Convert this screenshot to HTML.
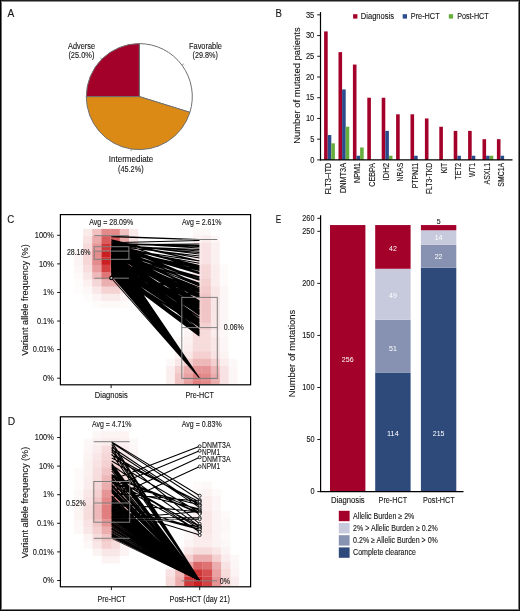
<!DOCTYPE html>
<html><head><meta charset="utf-8"><style>
html,body{margin:0;padding:0;background:#fff;}
svg{display:block;will-change:transform;}
text{font-family:"Liberation Sans", sans-serif;stroke:currentColor;stroke-width:0.12px;}
</style></head><body>
<svg width="520" height="611" viewBox="0 0 520 611">
<rect x="0" y="0" width="520" height="611" fill="#fff"/>
<text x="7.50" y="17.30" font-size="11.27" text-anchor="start" fill="#151515" color="#151515" textLength="6.80" lengthAdjust="spacingAndGlyphs">A</text>
<text x="275.60" y="17.30" font-size="11.27" text-anchor="start" fill="#151515" color="#151515" textLength="6.40" lengthAdjust="spacingAndGlyphs">B</text>
<text x="7.30" y="223.20" font-size="11.27" text-anchor="start" fill="#151515" color="#151515" textLength="7.00" lengthAdjust="spacingAndGlyphs">C</text>
<text x="7.80" y="425.40" font-size="11.27" text-anchor="start" fill="#151515" color="#151515" textLength="7.40" lengthAdjust="spacingAndGlyphs">D</text>
<text x="275.70" y="223.10" font-size="11.27" text-anchor="start" fill="#151515" color="#151515" textLength="5.40" lengthAdjust="spacingAndGlyphs">E</text>
<path d="M139.30,96.60 L139.30,43.60 A53.0,53.0 0 0 1 189.91,112.34 Z" fill="#ffffff" stroke="#707070" stroke-width="1.0" stroke-linejoin="round"/>
<path d="M139.30,96.60 L189.91,112.34 A53.0,53.0 0 0 1 86.30,96.60 Z" fill="#db8b15" stroke="#707070" stroke-width="1.0" stroke-linejoin="round"/>
<path d="M139.30,96.60 L86.30,96.60 A53.0,53.0 0 0 1 139.30,43.60 Z" fill="#a3002a" stroke="#707070" stroke-width="1.0" stroke-linejoin="round"/>
<line x1="101.82" y1="59.12" x2="100.27" y2="57.57" stroke="#6d6e71" stroke-width="0.7"/>
<line x1="181.98" y1="65.18" x2="183.75" y2="63.87" stroke="#6d6e71" stroke-width="0.7"/>
<line x1="131.34" y1="149.00" x2="131.01" y2="151.17" stroke="#6d6e71" stroke-width="0.7"/>
<text x="68.10" y="48.60" font-size="8.27" text-anchor="start" fill="#151515" color="#151515" textLength="26.90" lengthAdjust="spacingAndGlyphs">Adverse</text>
<text x="68.40" y="58.20" font-size="8.27" text-anchor="start" fill="#151515" color="#151515" textLength="26.00" lengthAdjust="spacingAndGlyphs">(25.0%)</text>
<text x="189.00" y="48.60" font-size="8.27" text-anchor="start" fill="#151515" color="#151515" textLength="32.90" lengthAdjust="spacingAndGlyphs">Favorable</text>
<text x="192.50" y="58.20" font-size="8.27" text-anchor="start" fill="#151515" color="#151515" textLength="25.30" lengthAdjust="spacingAndGlyphs">(29.8%)</text>
<text x="108.80" y="162.00" font-size="8.27" text-anchor="start" fill="#151515" color="#151515" textLength="44.50" lengthAdjust="spacingAndGlyphs">Intermediate</text>
<text x="118.00" y="171.60" font-size="8.27" text-anchor="start" fill="#151515" color="#151515" textLength="25.60" lengthAdjust="spacingAndGlyphs">(45.2%)</text>
<rect x="324.10" y="31.41" width="3.60" height="128.49" fill="#a3002a"/>
<rect x="327.70" y="135.03" width="3.60" height="24.87" fill="#2b4c8c"/>
<rect x="331.30" y="143.32" width="3.60" height="16.58" fill="#68ad3c"/>
<text x="331.50" y="162.90" font-size="8.4" text-anchor="end" fill="#151515" color="#151515" textLength="31.40" lengthAdjust="spacingAndGlyphs" transform="rotate(-90 331.50 162.90)">FLT3–ITD</text>
<rect x="338.50" y="52.13" width="3.60" height="107.77" fill="#a3002a"/>
<rect x="342.10" y="89.44" width="3.60" height="70.46" fill="#2b4c8c"/>
<rect x="345.70" y="126.74" width="3.60" height="33.16" fill="#68ad3c"/>
<text x="345.90" y="162.90" font-size="8.4" text-anchor="end" fill="#151515" color="#151515" textLength="30.20" lengthAdjust="spacingAndGlyphs" transform="rotate(-90 345.90 162.90)">DNMT3A</text>
<rect x="352.90" y="64.57" width="3.60" height="95.33" fill="#a3002a"/>
<rect x="356.50" y="155.75" width="3.60" height="4.14" fill="#2b4c8c"/>
<rect x="360.10" y="147.47" width="3.60" height="12.43" fill="#68ad3c"/>
<text x="360.30" y="162.90" font-size="8.4" text-anchor="end" fill="#151515" color="#151515" textLength="20.00" lengthAdjust="spacingAndGlyphs" transform="rotate(-90 360.30 162.90)">NPM1</text>
<rect x="367.30" y="97.73" width="3.60" height="62.17" fill="#a3002a"/>
<text x="374.70" y="162.90" font-size="8.4" text-anchor="end" fill="#151515" color="#151515" textLength="23.80" lengthAdjust="spacingAndGlyphs" transform="rotate(-90 374.70 162.90)">CEBPA</text>
<rect x="381.70" y="97.73" width="3.60" height="62.17" fill="#a3002a"/>
<rect x="385.30" y="130.89" width="3.60" height="29.01" fill="#2b4c8c"/>
<rect x="388.90" y="155.75" width="3.60" height="4.14" fill="#68ad3c"/>
<text x="389.10" y="162.90" font-size="8.4" text-anchor="end" fill="#151515" color="#151515" textLength="17.70" lengthAdjust="spacingAndGlyphs" transform="rotate(-90 389.10 162.90)">IDH2</text>
<rect x="396.10" y="114.31" width="3.60" height="45.59" fill="#a3002a"/>
<text x="403.50" y="162.90" font-size="8.4" text-anchor="end" fill="#151515" color="#151515" textLength="18.50" lengthAdjust="spacingAndGlyphs" transform="rotate(-90 403.50 162.90)">NRAS</text>
<rect x="410.50" y="114.31" width="3.60" height="45.59" fill="#a3002a"/>
<rect x="414.10" y="155.75" width="3.60" height="4.14" fill="#2b4c8c"/>
<text x="417.90" y="162.90" font-size="8.4" text-anchor="end" fill="#151515" color="#151515" textLength="25.40" lengthAdjust="spacingAndGlyphs" transform="rotate(-90 417.90 162.90)">PTPN11</text>
<rect x="424.90" y="118.45" width="3.60" height="41.45" fill="#a3002a"/>
<text x="432.30" y="162.90" font-size="8.4" text-anchor="end" fill="#151515" color="#151515" textLength="31.20" lengthAdjust="spacingAndGlyphs" transform="rotate(-90 432.30 162.90)">FLT3-TKD</text>
<rect x="439.30" y="126.74" width="3.60" height="33.16" fill="#a3002a"/>
<text x="446.70" y="162.90" font-size="8.4" text-anchor="end" fill="#151515" color="#151515" textLength="10.40" lengthAdjust="spacingAndGlyphs" transform="rotate(-90 446.70 162.90)">KIT</text>
<rect x="453.70" y="130.89" width="3.60" height="29.01" fill="#a3002a"/>
<rect x="457.30" y="155.75" width="3.60" height="4.14" fill="#2b4c8c"/>
<text x="461.10" y="162.90" font-size="8.4" text-anchor="end" fill="#151515" color="#151515" textLength="16.50" lengthAdjust="spacingAndGlyphs" transform="rotate(-90 461.10 162.90)">TET2</text>
<rect x="468.10" y="130.89" width="3.60" height="29.01" fill="#a3002a"/>
<rect x="471.70" y="155.75" width="3.60" height="4.14" fill="#2b4c8c"/>
<text x="475.50" y="162.90" font-size="8.4" text-anchor="end" fill="#151515" color="#151515" textLength="14.20" lengthAdjust="spacingAndGlyphs" transform="rotate(-90 475.50 162.90)">WT1</text>
<rect x="482.50" y="139.18" width="3.60" height="20.72" fill="#a3002a"/>
<rect x="486.10" y="155.75" width="3.60" height="4.14" fill="#2b4c8c"/>
<rect x="489.70" y="155.75" width="3.60" height="4.14" fill="#68ad3c"/>
<text x="489.90" y="162.90" font-size="8.4" text-anchor="end" fill="#151515" color="#151515" textLength="21.50" lengthAdjust="spacingAndGlyphs" transform="rotate(-90 489.90 162.90)">ASXL1</text>
<rect x="496.90" y="139.18" width="3.60" height="20.72" fill="#a3002a"/>
<rect x="500.50" y="155.75" width="3.60" height="4.14" fill="#2b4c8c"/>
<text x="504.30" y="162.90" font-size="8.4" text-anchor="end" fill="#151515" color="#151515" textLength="23.80" lengthAdjust="spacingAndGlyphs" transform="rotate(-90 504.30 162.90)">SMC1A</text>
<line x1="320.50" y1="12.10" x2="320.50" y2="160.40" stroke="#000" stroke-width="1.2"/>
<line x1="320.00" y1="159.90" x2="512.50" y2="159.90" stroke="#000" stroke-width="1.2"/>
<line x1="317.20" y1="159.90" x2="320.50" y2="159.90" stroke="#000" stroke-width="0.9"/>
<text x="314.30" y="162.60" font-size="8.4" text-anchor="end" fill="#151515" color="#151515" textLength="4.17" lengthAdjust="spacingAndGlyphs">0</text>
<line x1="317.20" y1="139.18" x2="320.50" y2="139.18" stroke="#000" stroke-width="0.9"/>
<text x="314.30" y="141.88" font-size="8.4" text-anchor="end" fill="#151515" color="#151515" textLength="4.17" lengthAdjust="spacingAndGlyphs">5</text>
<line x1="317.20" y1="118.45" x2="320.50" y2="118.45" stroke="#000" stroke-width="0.9"/>
<text x="314.30" y="121.15" font-size="8.4" text-anchor="end" fill="#151515" color="#151515" textLength="8.34" lengthAdjust="spacingAndGlyphs">10</text>
<line x1="317.20" y1="97.73" x2="320.50" y2="97.73" stroke="#000" stroke-width="0.9"/>
<text x="314.30" y="100.43" font-size="8.4" text-anchor="end" fill="#151515" color="#151515" textLength="8.34" lengthAdjust="spacingAndGlyphs">15</text>
<line x1="317.20" y1="77.00" x2="320.50" y2="77.00" stroke="#000" stroke-width="0.9"/>
<text x="314.30" y="79.70" font-size="8.4" text-anchor="end" fill="#151515" color="#151515" textLength="8.34" lengthAdjust="spacingAndGlyphs">20</text>
<line x1="317.20" y1="56.28" x2="320.50" y2="56.28" stroke="#000" stroke-width="0.9"/>
<text x="314.30" y="58.98" font-size="8.4" text-anchor="end" fill="#151515" color="#151515" textLength="8.34" lengthAdjust="spacingAndGlyphs">25</text>
<line x1="317.20" y1="35.55" x2="320.50" y2="35.55" stroke="#000" stroke-width="0.9"/>
<text x="314.30" y="38.25" font-size="8.4" text-anchor="end" fill="#151515" color="#151515" textLength="8.34" lengthAdjust="spacingAndGlyphs">30</text>
<line x1="317.20" y1="14.83" x2="320.50" y2="14.83" stroke="#000" stroke-width="0.9"/>
<text x="314.30" y="17.53" font-size="8.4" text-anchor="end" fill="#151515" color="#151515" textLength="8.34" lengthAdjust="spacingAndGlyphs">35</text>
<text x="299.60" y="85.60" font-size="9.36" text-anchor="middle" fill="#151515" color="#151515" textLength="116.50" lengthAdjust="spacingAndGlyphs" transform="rotate(-90 299.60 85.60)">Number of mutated patients</text>
<rect x="353.10" y="14.20" width="4.30" height="4.40" fill="#a3002a"/>
<text x="360.80" y="18.80" font-size="8.51" text-anchor="start" fill="#151515" color="#151515" textLength="33.20" lengthAdjust="spacingAndGlyphs">Diagnosis</text>
<rect x="402.70" y="14.20" width="4.30" height="4.40" fill="#2b4c8c"/>
<text x="410.80" y="18.80" font-size="8.51" text-anchor="start" fill="#151515" color="#151515" textLength="28.80" lengthAdjust="spacingAndGlyphs">Pre-HCT</text>
<rect x="448.80" y="14.20" width="4.30" height="4.40" fill="#68ad3c"/>
<text x="457.20" y="18.80" font-size="8.51" text-anchor="start" fill="#151515" color="#151515" textLength="31.40" lengthAdjust="spacingAndGlyphs">Post-HCT</text>
<rect x="330.00" y="225.05" width="35.40" height="266.55" fill="#a3002a"/>
<rect x="375.20" y="372.90" width="35.40" height="118.70" fill="#2e4a7b"/>
<rect x="375.20" y="319.80" width="35.40" height="53.10" fill="#8792b3"/>
<rect x="375.20" y="268.78" width="35.40" height="51.02" fill="#c7c9dc"/>
<rect x="375.20" y="225.05" width="35.40" height="43.73" fill="#a3002a"/>
<rect x="420.90" y="267.74" width="35.40" height="223.86" fill="#2e4a7b"/>
<rect x="420.90" y="244.84" width="35.40" height="22.91" fill="#8792b3"/>
<rect x="420.90" y="230.26" width="35.40" height="14.58" fill="#c7c9dc"/>
<rect x="420.90" y="225.05" width="35.40" height="5.21" fill="#a3002a"/>
<text x="347.70" y="362.00" font-size="7.84" text-anchor="middle" fill="#fff" color="#fff" style="stroke:none" textLength="11.68" lengthAdjust="spacingAndGlyphs">256</text>
<text x="392.90" y="251.00" font-size="7.84" text-anchor="middle" fill="#fff" color="#fff" style="stroke:none" textLength="7.79" lengthAdjust="spacingAndGlyphs">42</text>
<text x="392.90" y="297.50" font-size="7.84" text-anchor="middle" fill="#fff" color="#fff" style="stroke:none" textLength="7.79" lengthAdjust="spacingAndGlyphs">49</text>
<text x="392.90" y="350.50" font-size="7.84" text-anchor="middle" fill="#fff" color="#fff" style="stroke:none" textLength="7.79" lengthAdjust="spacingAndGlyphs">51</text>
<text x="392.90" y="435.50" font-size="7.84" text-anchor="middle" fill="#fff" color="#fff" style="stroke:none" textLength="11.68" lengthAdjust="spacingAndGlyphs">114</text>
<text x="438.60" y="240.20" font-size="7.84" text-anchor="middle" fill="#fff" color="#fff" style="stroke:none" textLength="7.79" lengthAdjust="spacingAndGlyphs">14</text>
<text x="438.60" y="258.60" font-size="7.84" text-anchor="middle" fill="#fff" color="#fff" style="stroke:none" textLength="7.79" lengthAdjust="spacingAndGlyphs">22</text>
<text x="438.60" y="435.50" font-size="7.84" text-anchor="middle" fill="#fff" color="#fff" style="stroke:none" textLength="11.68" lengthAdjust="spacingAndGlyphs">215</text>
<text x="438.60" y="223.60" font-size="7.84" text-anchor="middle" fill="#151515" color="#151515" textLength="3.89" lengthAdjust="spacingAndGlyphs">5</text>
<line x1="320.60" y1="215.20" x2="320.60" y2="492.10" stroke="#000" stroke-width="1.2"/>
<line x1="320.00" y1="491.60" x2="463.50" y2="491.60" stroke="#000" stroke-width="1.2"/>
<line x1="317.30" y1="218.30" x2="320.60" y2="218.30" stroke="#000" stroke-width="0.9"/>
<text x="314.50" y="220.90" font-size="8.18" text-anchor="end" fill="#151515" color="#151515" textLength="12.18" lengthAdjust="spacingAndGlyphs">260</text>
<line x1="317.30" y1="231.30" x2="320.60" y2="231.30" stroke="#000" stroke-width="0.9"/>
<text x="314.50" y="233.90" font-size="8.18" text-anchor="end" fill="#151515" color="#151515" textLength="12.18" lengthAdjust="spacingAndGlyphs">250</text>
<line x1="317.30" y1="283.36" x2="320.60" y2="283.36" stroke="#000" stroke-width="0.9"/>
<text x="314.50" y="285.96" font-size="8.18" text-anchor="end" fill="#151515" color="#151515" textLength="12.18" lengthAdjust="spacingAndGlyphs">200</text>
<line x1="317.30" y1="335.42" x2="320.60" y2="335.42" stroke="#000" stroke-width="0.9"/>
<text x="314.50" y="338.02" font-size="8.18" text-anchor="end" fill="#151515" color="#151515" textLength="12.18" lengthAdjust="spacingAndGlyphs">150</text>
<line x1="317.30" y1="387.48" x2="320.60" y2="387.48" stroke="#000" stroke-width="0.9"/>
<text x="314.50" y="390.08" font-size="8.18" text-anchor="end" fill="#151515" color="#151515" textLength="12.18" lengthAdjust="spacingAndGlyphs">100</text>
<line x1="317.30" y1="439.54" x2="320.60" y2="439.54" stroke="#000" stroke-width="0.9"/>
<text x="314.50" y="442.14" font-size="8.18" text-anchor="end" fill="#151515" color="#151515" textLength="8.12" lengthAdjust="spacingAndGlyphs">50</text>
<line x1="317.30" y1="491.60" x2="320.60" y2="491.60" stroke="#000" stroke-width="0.9"/>
<text x="314.50" y="494.20" font-size="8.18" text-anchor="end" fill="#151515" color="#151515" textLength="4.06" lengthAdjust="spacingAndGlyphs">0</text>
<text x="295.20" y="353.50" font-size="9.36" text-anchor="middle" fill="#151515" color="#151515" textLength="87.60" lengthAdjust="spacingAndGlyphs" transform="rotate(-90 295.20 353.50)">Number of mutations</text>
<text x="331.00" y="503.00" font-size="8.51" text-anchor="start" fill="#151515" color="#151515" textLength="33.70" lengthAdjust="spacingAndGlyphs">Diagnosis</text>
<text x="378.60" y="503.00" font-size="8.51" text-anchor="start" fill="#151515" color="#151515" textLength="28.50" lengthAdjust="spacingAndGlyphs">Pre-HCT</text>
<text x="423.00" y="503.00" font-size="8.51" text-anchor="start" fill="#151515" color="#151515" textLength="31.70" lengthAdjust="spacingAndGlyphs">Post-HCT</text>
<rect x="338.80" y="510.80" width="10.80" height="10.40" fill="#a3002a"/>
<text x="353.10" y="518.70" font-size="8.51" text-anchor="start" fill="#151515" color="#151515" textLength="61.30" lengthAdjust="spacingAndGlyphs">Allelic Burden ≥ 2%</text>
<rect x="338.80" y="523.00" width="10.80" height="10.40" fill="#c7c9dc"/>
<text x="353.10" y="530.90" font-size="8.51" text-anchor="start" fill="#151515" color="#151515" textLength="84.80" lengthAdjust="spacingAndGlyphs">2% &gt; Allelic Burden ≥ 0.2%</text>
<rect x="338.80" y="535.20" width="10.80" height="10.40" fill="#8792b3"/>
<text x="353.10" y="543.10" font-size="8.51" text-anchor="start" fill="#151515" color="#151515" textLength="84.80" lengthAdjust="spacingAndGlyphs">0.2% ≥ Allelic Burden &gt; 0%</text>
<rect x="338.80" y="547.40" width="10.80" height="10.40" fill="#2e4a7b"/>
<text x="353.10" y="555.30" font-size="8.51" text-anchor="start" fill="#151515" color="#151515" textLength="62.80" lengthAdjust="spacingAndGlyphs">Complete clearance</text>
<rect x="83.10" y="228.90" width="9.13" height="7.23" fill="rgb(200, 20, 22)" fill-opacity="0.091"/>
<rect x="92.20" y="228.90" width="9.23" height="7.23" fill="rgb(200, 20, 22)" fill-opacity="0.262"/>
<rect x="101.40" y="228.90" width="9.23" height="7.23" fill="rgb(200, 20, 22)" fill-opacity="0.503"/>
<rect x="110.60" y="228.90" width="9.23" height="7.23" fill="rgb(200, 20, 22)" fill-opacity="0.503"/>
<rect x="119.80" y="228.90" width="9.23" height="7.23" fill="rgb(200, 20, 22)" fill-opacity="0.262"/>
<rect x="129.00" y="228.90" width="9.23" height="7.23" fill="rgb(200, 20, 22)" fill-opacity="0.091"/>
<rect x="83.10" y="236.10" width="9.13" height="7.23" fill="rgb(200, 20, 22)" fill-opacity="0.127"/>
<rect x="92.20" y="236.10" width="9.23" height="7.23" fill="rgb(200, 20, 22)" fill-opacity="0.366"/>
<rect x="101.40" y="236.10" width="9.23" height="7.23" fill="rgb(200, 20, 22)" fill-opacity="0.703"/>
<rect x="110.60" y="236.10" width="9.23" height="7.23" fill="rgb(200, 20, 22)" fill-opacity="0.703"/>
<rect x="119.80" y="236.10" width="9.23" height="7.23" fill="rgb(200, 20, 22)" fill-opacity="0.366"/>
<rect x="129.00" y="236.10" width="9.23" height="7.23" fill="rgb(200, 20, 22)" fill-opacity="0.127"/>
<rect x="83.10" y="243.30" width="9.13" height="7.23" fill="rgb(200, 20, 22)" fill-opacity="0.154"/>
<rect x="92.20" y="243.30" width="9.23" height="7.23" fill="rgb(200, 20, 22)" fill-opacity="0.445"/>
<rect x="101.40" y="243.30" width="9.23" height="7.23" fill="rgb(200, 20, 22)" fill-opacity="0.855"/>
<rect x="110.60" y="243.30" width="9.23" height="7.23" fill="rgb(200, 20, 22)" fill-opacity="0.855"/>
<rect x="119.80" y="243.30" width="9.23" height="7.23" fill="rgb(200, 20, 22)" fill-opacity="0.445"/>
<rect x="129.00" y="243.30" width="9.23" height="7.23" fill="rgb(200, 20, 22)" fill-opacity="0.154"/>
<rect x="74.10" y="250.50" width="9.03" height="7.23" fill="rgb(200, 20, 22)" fill-opacity="0.048"/>
<rect x="83.10" y="250.50" width="9.13" height="7.23" fill="rgb(200, 20, 22)" fill-opacity="0.171"/>
<rect x="92.20" y="250.50" width="9.23" height="7.23" fill="rgb(200, 20, 22)" fill-opacity="0.494"/>
<rect x="101.40" y="250.50" width="9.23" height="7.23" fill="rgb(200, 20, 22)" fill-opacity="0.950"/>
<rect x="110.60" y="250.50" width="9.23" height="7.23" fill="rgb(200, 20, 22)" fill-opacity="0.950"/>
<rect x="119.80" y="250.50" width="9.23" height="7.23" fill="rgb(200, 20, 22)" fill-opacity="0.494"/>
<rect x="129.00" y="250.50" width="9.23" height="7.23" fill="rgb(200, 20, 22)" fill-opacity="0.171"/>
<rect x="74.10" y="257.70" width="9.03" height="7.23" fill="rgb(200, 20, 22)" fill-opacity="0.048"/>
<rect x="83.10" y="257.70" width="9.13" height="7.23" fill="rgb(200, 20, 22)" fill-opacity="0.171"/>
<rect x="92.20" y="257.70" width="9.23" height="7.23" fill="rgb(200, 20, 22)" fill-opacity="0.494"/>
<rect x="101.40" y="257.70" width="9.23" height="7.23" fill="rgb(200, 20, 22)" fill-opacity="0.950"/>
<rect x="110.60" y="257.70" width="9.23" height="7.23" fill="rgb(200, 20, 22)" fill-opacity="0.950"/>
<rect x="119.80" y="257.70" width="9.23" height="7.23" fill="rgb(200, 20, 22)" fill-opacity="0.494"/>
<rect x="129.00" y="257.70" width="9.23" height="7.23" fill="rgb(200, 20, 22)" fill-opacity="0.171"/>
<rect x="74.10" y="264.90" width="9.03" height="7.23" fill="rgb(200, 20, 22)" fill-opacity="0.040"/>
<rect x="83.10" y="264.90" width="9.13" height="7.23" fill="rgb(200, 20, 22)" fill-opacity="0.145"/>
<rect x="92.20" y="264.90" width="9.23" height="7.23" fill="rgb(200, 20, 22)" fill-opacity="0.420"/>
<rect x="101.40" y="264.90" width="9.23" height="7.23" fill="rgb(200, 20, 22)" fill-opacity="0.807"/>
<rect x="110.60" y="264.90" width="9.23" height="7.23" fill="rgb(200, 20, 22)" fill-opacity="0.807"/>
<rect x="119.80" y="264.90" width="9.23" height="7.23" fill="rgb(200, 20, 22)" fill-opacity="0.420"/>
<rect x="129.00" y="264.90" width="9.23" height="7.23" fill="rgb(200, 20, 22)" fill-opacity="0.145"/>
<rect x="74.10" y="272.10" width="9.03" height="7.23" fill="rgb(200, 20, 22)" fill-opacity="0.029"/>
<rect x="83.10" y="272.10" width="9.13" height="7.23" fill="rgb(200, 20, 22)" fill-opacity="0.106"/>
<rect x="92.20" y="272.10" width="9.23" height="7.23" fill="rgb(200, 20, 22)" fill-opacity="0.306"/>
<rect x="101.40" y="272.10" width="9.23" height="7.23" fill="rgb(200, 20, 22)" fill-opacity="0.589"/>
<rect x="110.60" y="272.10" width="9.23" height="7.23" fill="rgb(200, 20, 22)" fill-opacity="0.589"/>
<rect x="119.80" y="272.10" width="9.23" height="7.23" fill="rgb(200, 20, 22)" fill-opacity="0.306"/>
<rect x="129.00" y="272.10" width="9.23" height="7.23" fill="rgb(200, 20, 22)" fill-opacity="0.106"/>
<rect x="74.10" y="279.30" width="9.03" height="7.23" fill="rgb(200, 20, 22)" fill-opacity="0.017"/>
<rect x="83.10" y="279.30" width="9.13" height="7.23" fill="rgb(200, 20, 22)" fill-opacity="0.062"/>
<rect x="92.20" y="279.30" width="9.23" height="7.23" fill="rgb(200, 20, 22)" fill-opacity="0.178"/>
<rect x="101.40" y="279.30" width="9.23" height="7.23" fill="rgb(200, 20, 22)" fill-opacity="0.342"/>
<rect x="110.60" y="279.30" width="9.23" height="7.23" fill="rgb(200, 20, 22)" fill-opacity="0.342"/>
<rect x="119.80" y="279.30" width="9.23" height="7.23" fill="rgb(200, 20, 22)" fill-opacity="0.178"/>
<rect x="129.00" y="279.30" width="9.23" height="7.23" fill="rgb(200, 20, 22)" fill-opacity="0.062"/>
<rect x="74.10" y="286.50" width="9.03" height="7.23" fill="rgb(200, 20, 22)" fill-opacity="0.010"/>
<rect x="83.10" y="286.50" width="9.13" height="7.23" fill="rgb(200, 20, 22)" fill-opacity="0.034"/>
<rect x="92.20" y="286.50" width="9.23" height="7.23" fill="rgb(200, 20, 22)" fill-opacity="0.099"/>
<rect x="101.40" y="286.50" width="9.23" height="7.23" fill="rgb(200, 20, 22)" fill-opacity="0.190"/>
<rect x="110.60" y="286.50" width="9.23" height="7.23" fill="rgb(200, 20, 22)" fill-opacity="0.190"/>
<rect x="119.80" y="286.50" width="9.23" height="7.23" fill="rgb(200, 20, 22)" fill-opacity="0.099"/>
<rect x="129.00" y="286.50" width="9.23" height="7.23" fill="rgb(200, 20, 22)" fill-opacity="0.034"/>
<rect x="83.10" y="293.70" width="9.13" height="7.23" fill="rgb(200, 20, 22)" fill-opacity="0.015"/>
<rect x="92.20" y="293.70" width="9.23" height="7.23" fill="rgb(200, 20, 22)" fill-opacity="0.044"/>
<rect x="101.40" y="293.70" width="9.23" height="7.23" fill="rgb(200, 20, 22)" fill-opacity="0.085"/>
<rect x="110.60" y="293.70" width="9.23" height="7.23" fill="rgb(200, 20, 22)" fill-opacity="0.085"/>
<rect x="119.80" y="293.70" width="9.23" height="7.23" fill="rgb(200, 20, 22)" fill-opacity="0.044"/>
<rect x="129.00" y="293.70" width="9.23" height="7.23" fill="rgb(200, 20, 22)" fill-opacity="0.015"/>
<rect x="83.10" y="300.90" width="9.13" height="7.23" fill="rgb(200, 20, 22)" fill-opacity="0.005"/>
<rect x="92.20" y="300.90" width="9.23" height="7.23" fill="rgb(200, 20, 22)" fill-opacity="0.015"/>
<rect x="101.40" y="300.90" width="9.23" height="7.23" fill="rgb(200, 20, 22)" fill-opacity="0.028"/>
<rect x="110.60" y="300.90" width="9.23" height="7.23" fill="rgb(200, 20, 22)" fill-opacity="0.028"/>
<rect x="119.80" y="300.90" width="9.23" height="7.23" fill="rgb(200, 20, 22)" fill-opacity="0.015"/>
<rect x="129.00" y="300.90" width="9.23" height="7.23" fill="rgb(200, 20, 22)" fill-opacity="0.005"/>
<rect x="192.80" y="228.30" width="8.73" height="7.28" fill="rgb(200, 20, 22)" fill-opacity="0.030"/>
<rect x="201.50" y="228.30" width="9.33" height="7.28" fill="rgb(200, 20, 22)" fill-opacity="0.030"/>
<rect x="192.80" y="235.55" width="8.73" height="7.28" fill="rgb(200, 20, 22)" fill-opacity="0.050"/>
<rect x="201.50" y="235.55" width="9.33" height="7.28" fill="rgb(200, 20, 22)" fill-opacity="0.080"/>
<rect x="210.80" y="235.55" width="8.93" height="7.28" fill="rgb(200, 20, 22)" fill-opacity="0.040"/>
<rect x="183.80" y="242.80" width="9.03" height="7.28" fill="rgb(200, 20, 22)" fill-opacity="0.020"/>
<rect x="192.80" y="242.80" width="8.73" height="7.28" fill="rgb(200, 20, 22)" fill-opacity="0.080"/>
<rect x="201.50" y="242.80" width="9.33" height="7.28" fill="rgb(200, 20, 22)" fill-opacity="0.120"/>
<rect x="210.80" y="242.80" width="8.93" height="7.28" fill="rgb(200, 20, 22)" fill-opacity="0.060"/>
<rect x="183.80" y="250.05" width="9.03" height="7.28" fill="rgb(200, 20, 22)" fill-opacity="0.020"/>
<rect x="192.80" y="250.05" width="8.73" height="7.28" fill="rgb(200, 20, 22)" fill-opacity="0.080"/>
<rect x="201.50" y="250.05" width="9.33" height="7.28" fill="rgb(200, 20, 22)" fill-opacity="0.120"/>
<rect x="210.80" y="250.05" width="8.93" height="7.28" fill="rgb(200, 20, 22)" fill-opacity="0.060"/>
<rect x="183.80" y="257.30" width="9.03" height="7.28" fill="rgb(200, 20, 22)" fill-opacity="0.020"/>
<rect x="192.80" y="257.30" width="8.73" height="7.28" fill="rgb(200, 20, 22)" fill-opacity="0.080"/>
<rect x="201.50" y="257.30" width="9.33" height="7.28" fill="rgb(200, 20, 22)" fill-opacity="0.120"/>
<rect x="210.80" y="257.30" width="8.93" height="7.28" fill="rgb(200, 20, 22)" fill-opacity="0.060"/>
<rect x="183.80" y="264.55" width="9.03" height="7.28" fill="rgb(200, 20, 22)" fill-opacity="0.030"/>
<rect x="192.80" y="264.55" width="8.73" height="7.28" fill="rgb(200, 20, 22)" fill-opacity="0.120"/>
<rect x="201.50" y="264.55" width="9.33" height="7.28" fill="rgb(200, 20, 22)" fill-opacity="0.170"/>
<rect x="210.80" y="264.55" width="8.93" height="7.28" fill="rgb(200, 20, 22)" fill-opacity="0.080"/>
<rect x="219.70" y="264.55" width="8.83" height="7.28" fill="rgb(200, 20, 22)" fill-opacity="0.020"/>
<rect x="183.80" y="271.80" width="9.03" height="7.28" fill="rgb(200, 20, 22)" fill-opacity="0.030"/>
<rect x="192.80" y="271.80" width="8.73" height="7.28" fill="rgb(200, 20, 22)" fill-opacity="0.120"/>
<rect x="201.50" y="271.80" width="9.33" height="7.28" fill="rgb(200, 20, 22)" fill-opacity="0.170"/>
<rect x="210.80" y="271.80" width="8.93" height="7.28" fill="rgb(200, 20, 22)" fill-opacity="0.080"/>
<rect x="219.70" y="271.80" width="8.83" height="7.28" fill="rgb(200, 20, 22)" fill-opacity="0.020"/>
<rect x="183.80" y="279.05" width="9.03" height="7.28" fill="rgb(200, 20, 22)" fill-opacity="0.030"/>
<rect x="192.80" y="279.05" width="8.73" height="7.28" fill="rgb(200, 20, 22)" fill-opacity="0.140"/>
<rect x="201.50" y="279.05" width="9.33" height="7.28" fill="rgb(200, 20, 22)" fill-opacity="0.200"/>
<rect x="210.80" y="279.05" width="8.93" height="7.28" fill="rgb(200, 20, 22)" fill-opacity="0.080"/>
<rect x="219.70" y="279.05" width="8.83" height="7.28" fill="rgb(200, 20, 22)" fill-opacity="0.020"/>
<rect x="183.80" y="286.30" width="9.03" height="7.28" fill="rgb(200, 20, 22)" fill-opacity="0.040"/>
<rect x="192.80" y="286.30" width="8.73" height="7.28" fill="rgb(200, 20, 22)" fill-opacity="0.180"/>
<rect x="201.50" y="286.30" width="9.33" height="7.28" fill="rgb(200, 20, 22)" fill-opacity="0.220"/>
<rect x="210.80" y="286.30" width="8.93" height="7.28" fill="rgb(200, 20, 22)" fill-opacity="0.100"/>
<rect x="219.70" y="286.30" width="8.83" height="7.28" fill="rgb(200, 20, 22)" fill-opacity="0.040"/>
<rect x="183.80" y="293.55" width="9.03" height="7.28" fill="rgb(200, 20, 22)" fill-opacity="0.040"/>
<rect x="192.80" y="293.55" width="8.73" height="7.28" fill="rgb(200, 20, 22)" fill-opacity="0.200"/>
<rect x="201.50" y="293.55" width="9.33" height="7.28" fill="rgb(200, 20, 22)" fill-opacity="0.250"/>
<rect x="210.80" y="293.55" width="8.93" height="7.28" fill="rgb(200, 20, 22)" fill-opacity="0.100"/>
<rect x="219.70" y="293.55" width="8.83" height="7.28" fill="rgb(200, 20, 22)" fill-opacity="0.040"/>
<rect x="183.80" y="300.80" width="9.03" height="7.28" fill="rgb(200, 20, 22)" fill-opacity="0.040"/>
<rect x="192.80" y="300.80" width="8.73" height="7.28" fill="rgb(200, 20, 22)" fill-opacity="0.200"/>
<rect x="201.50" y="300.80" width="9.33" height="7.28" fill="rgb(200, 20, 22)" fill-opacity="0.250"/>
<rect x="210.80" y="300.80" width="8.93" height="7.28" fill="rgb(200, 20, 22)" fill-opacity="0.100"/>
<rect x="219.70" y="300.80" width="8.83" height="7.28" fill="rgb(200, 20, 22)" fill-opacity="0.040"/>
<rect x="183.80" y="308.05" width="9.03" height="7.28" fill="rgb(200, 20, 22)" fill-opacity="0.050"/>
<rect x="192.80" y="308.05" width="8.73" height="7.28" fill="rgb(200, 20, 22)" fill-opacity="0.200"/>
<rect x="201.50" y="308.05" width="9.33" height="7.28" fill="rgb(200, 20, 22)" fill-opacity="0.250"/>
<rect x="210.80" y="308.05" width="8.93" height="7.28" fill="rgb(200, 20, 22)" fill-opacity="0.100"/>
<rect x="219.70" y="308.05" width="8.83" height="7.28" fill="rgb(200, 20, 22)" fill-opacity="0.040"/>
<rect x="183.80" y="315.30" width="9.03" height="7.28" fill="rgb(200, 20, 22)" fill-opacity="0.050"/>
<rect x="192.80" y="315.30" width="8.73" height="7.28" fill="rgb(200, 20, 22)" fill-opacity="0.200"/>
<rect x="201.50" y="315.30" width="9.33" height="7.28" fill="rgb(200, 20, 22)" fill-opacity="0.250"/>
<rect x="210.80" y="315.30" width="8.93" height="7.28" fill="rgb(200, 20, 22)" fill-opacity="0.100"/>
<rect x="219.70" y="315.30" width="8.83" height="7.28" fill="rgb(200, 20, 22)" fill-opacity="0.040"/>
<rect x="183.80" y="322.55" width="9.03" height="7.28" fill="rgb(200, 20, 22)" fill-opacity="0.050"/>
<rect x="192.80" y="322.55" width="8.73" height="7.28" fill="rgb(200, 20, 22)" fill-opacity="0.180"/>
<rect x="201.50" y="322.55" width="9.33" height="7.28" fill="rgb(200, 20, 22)" fill-opacity="0.200"/>
<rect x="210.80" y="322.55" width="8.93" height="7.28" fill="rgb(200, 20, 22)" fill-opacity="0.100"/>
<rect x="219.70" y="322.55" width="8.83" height="7.28" fill="rgb(200, 20, 22)" fill-opacity="0.040"/>
<rect x="183.80" y="329.80" width="9.03" height="7.28" fill="rgb(200, 20, 22)" fill-opacity="0.050"/>
<rect x="192.80" y="329.80" width="8.73" height="7.28" fill="rgb(200, 20, 22)" fill-opacity="0.150"/>
<rect x="201.50" y="329.80" width="9.33" height="7.28" fill="rgb(200, 20, 22)" fill-opacity="0.150"/>
<rect x="210.80" y="329.80" width="8.93" height="7.28" fill="rgb(200, 20, 22)" fill-opacity="0.080"/>
<rect x="219.70" y="329.80" width="8.83" height="7.28" fill="rgb(200, 20, 22)" fill-opacity="0.030"/>
<rect x="174.90" y="337.05" width="8.93" height="7.28" fill="rgb(200, 20, 22)" fill-opacity="0.030"/>
<rect x="183.80" y="337.05" width="9.03" height="7.28" fill="rgb(200, 20, 22)" fill-opacity="0.060"/>
<rect x="192.80" y="337.05" width="8.73" height="7.28" fill="rgb(200, 20, 22)" fill-opacity="0.150"/>
<rect x="201.50" y="337.05" width="9.33" height="7.28" fill="rgb(200, 20, 22)" fill-opacity="0.150"/>
<rect x="210.80" y="337.05" width="8.93" height="7.28" fill="rgb(200, 20, 22)" fill-opacity="0.100"/>
<rect x="219.70" y="337.05" width="8.83" height="7.28" fill="rgb(200, 20, 22)" fill-opacity="0.040"/>
<rect x="174.90" y="344.30" width="8.93" height="7.28" fill="rgb(200, 20, 22)" fill-opacity="0.030"/>
<rect x="183.80" y="344.30" width="9.03" height="7.28" fill="rgb(200, 20, 22)" fill-opacity="0.080"/>
<rect x="192.80" y="344.30" width="8.73" height="7.28" fill="rgb(200, 20, 22)" fill-opacity="0.150"/>
<rect x="201.50" y="344.30" width="9.33" height="7.28" fill="rgb(200, 20, 22)" fill-opacity="0.150"/>
<rect x="210.80" y="344.30" width="8.93" height="7.28" fill="rgb(200, 20, 22)" fill-opacity="0.100"/>
<rect x="219.70" y="344.30" width="8.83" height="7.28" fill="rgb(200, 20, 22)" fill-opacity="0.040"/>
<rect x="174.90" y="351.55" width="8.93" height="7.28" fill="rgb(200, 20, 22)" fill-opacity="0.050"/>
<rect x="183.80" y="351.55" width="9.03" height="7.28" fill="rgb(200, 20, 22)" fill-opacity="0.100"/>
<rect x="192.80" y="351.55" width="8.73" height="7.28" fill="rgb(200, 20, 22)" fill-opacity="0.200"/>
<rect x="201.50" y="351.55" width="9.33" height="7.28" fill="rgb(200, 20, 22)" fill-opacity="0.200"/>
<rect x="210.80" y="351.55" width="8.93" height="7.28" fill="rgb(200, 20, 22)" fill-opacity="0.120"/>
<rect x="219.70" y="351.55" width="8.83" height="7.28" fill="rgb(200, 20, 22)" fill-opacity="0.050"/>
<rect x="166.20" y="358.80" width="8.73" height="7.28" fill="rgb(200, 20, 22)" fill-opacity="0.030"/>
<rect x="174.90" y="358.80" width="8.93" height="7.28" fill="rgb(200, 20, 22)" fill-opacity="0.100"/>
<rect x="183.80" y="358.80" width="9.03" height="7.28" fill="rgb(200, 20, 22)" fill-opacity="0.200"/>
<rect x="192.80" y="358.80" width="8.73" height="7.28" fill="rgb(200, 20, 22)" fill-opacity="0.300"/>
<rect x="201.50" y="358.80" width="9.33" height="7.28" fill="rgb(200, 20, 22)" fill-opacity="0.300"/>
<rect x="210.80" y="358.80" width="8.93" height="7.28" fill="rgb(200, 20, 22)" fill-opacity="0.200"/>
<rect x="219.70" y="358.80" width="8.83" height="7.28" fill="rgb(200, 20, 22)" fill-opacity="0.080"/>
<rect x="228.50" y="358.80" width="8.93" height="7.28" fill="rgb(200, 20, 22)" fill-opacity="0.030"/>
<rect x="166.20" y="366.05" width="8.73" height="7.28" fill="rgb(200, 20, 22)" fill-opacity="0.070"/>
<rect x="174.90" y="366.05" width="8.93" height="7.28" fill="rgb(200, 20, 22)" fill-opacity="0.200"/>
<rect x="183.80" y="366.05" width="9.03" height="7.28" fill="rgb(200, 20, 22)" fill-opacity="0.350"/>
<rect x="192.80" y="366.05" width="8.73" height="7.28" fill="rgb(200, 20, 22)" fill-opacity="0.450"/>
<rect x="201.50" y="366.05" width="9.33" height="7.28" fill="rgb(200, 20, 22)" fill-opacity="0.450"/>
<rect x="210.80" y="366.05" width="8.93" height="7.28" fill="rgb(200, 20, 22)" fill-opacity="0.300"/>
<rect x="219.70" y="366.05" width="8.83" height="7.28" fill="rgb(200, 20, 22)" fill-opacity="0.120"/>
<rect x="228.50" y="366.05" width="8.93" height="7.28" fill="rgb(200, 20, 22)" fill-opacity="0.040"/>
<rect x="166.20" y="373.30" width="8.73" height="7.28" fill="rgb(200, 20, 22)" fill-opacity="0.070"/>
<rect x="174.90" y="373.30" width="8.93" height="7.28" fill="rgb(200, 20, 22)" fill-opacity="0.250"/>
<rect x="183.80" y="373.30" width="9.03" height="7.28" fill="rgb(200, 20, 22)" fill-opacity="0.400"/>
<rect x="192.80" y="373.30" width="8.73" height="7.28" fill="rgb(200, 20, 22)" fill-opacity="0.550"/>
<rect x="201.50" y="373.30" width="9.33" height="7.28" fill="rgb(200, 20, 22)" fill-opacity="0.500"/>
<rect x="210.80" y="373.30" width="8.93" height="7.28" fill="rgb(200, 20, 22)" fill-opacity="0.350"/>
<rect x="219.70" y="373.30" width="8.83" height="7.28" fill="rgb(200, 20, 22)" fill-opacity="0.120"/>
<rect x="228.50" y="373.30" width="8.93" height="7.28" fill="rgb(200, 20, 22)" fill-opacity="0.040"/>
<rect x="166.20" y="380.55" width="8.73" height="3.68" fill="rgb(200, 20, 22)" fill-opacity="0.070"/>
<rect x="174.90" y="380.55" width="8.93" height="3.68" fill="rgb(200, 20, 22)" fill-opacity="0.250"/>
<rect x="183.80" y="380.55" width="9.03" height="3.68" fill="rgb(200, 20, 22)" fill-opacity="0.400"/>
<rect x="192.80" y="380.55" width="8.73" height="3.68" fill="rgb(200, 20, 22)" fill-opacity="0.550"/>
<rect x="201.50" y="380.55" width="9.33" height="3.68" fill="rgb(200, 20, 22)" fill-opacity="0.500"/>
<rect x="210.80" y="380.55" width="8.93" height="3.68" fill="rgb(200, 20, 22)" fill-opacity="0.350"/>
<rect x="219.70" y="380.55" width="8.83" height="3.68" fill="rgb(200, 20, 22)" fill-opacity="0.120"/>
<rect x="228.50" y="380.55" width="8.93" height="3.68" fill="rgb(200, 20, 22)" fill-opacity="0.040"/>
<path d="M111.3,257.23L199.4,378.00 M111.3,261.31L199.4,378.00 M111.3,264.96L199.4,378.00 M111.3,250.06L199.4,378.00 M111.3,249.65L199.4,378.00 M111.3,264.23L199.4,378.00 M111.3,249.07L199.4,378.00 M111.3,256.67L199.4,378.00 M111.3,248.17L199.4,378.00 M111.3,250.59L199.4,378.00 M111.3,253.70L199.4,378.00 M111.3,261.41L199.4,378.00 M111.3,251.53L199.4,378.00 M111.3,254.59L199.4,378.00 M111.3,267.24L199.4,378.00 M111.3,275.01L199.4,378.00 M111.3,255.36L199.4,378.00 M111.3,251.49L199.4,378.00 M111.3,272.47L199.4,378.00 M111.3,250.49L199.4,378.00 M111.3,257.95L199.4,378.00 M111.3,251.36L199.4,378.00 M111.3,270.89L199.4,378.00 M111.3,258.12L199.4,378.00 M111.3,266.21L199.4,378.00 M111.3,265.17L199.4,378.00 M111.3,261.96L199.4,378.00 M111.3,249.79L199.4,378.00 M111.3,258.95L199.4,378.00 M111.3,254.73L199.4,378.00 M111.3,267.39L199.4,378.00 M111.3,256.20L199.4,378.00 M111.3,270.62L199.4,378.00 M111.3,267.92L199.4,378.00 M111.3,252.53L199.4,378.00 M111.3,266.37L199.4,378.00 M111.3,262.97L199.4,378.00 M111.3,264.59L199.4,378.00 M111.3,260.44L199.4,378.00 M111.3,269.58L199.4,378.00 M111.3,259.73L199.4,378.00 M111.3,259.36L199.4,378.00 M111.3,249.12L199.4,378.00 M111.3,262.40L199.4,378.00 M111.3,267.62L199.4,378.00 M111.3,264.94L199.4,378.00 M111.3,266.18L199.4,378.00 M111.3,254.63L199.4,378.00 M111.3,249.73L199.4,378.00 M111.3,272.42L199.4,378.00 M111.3,251.11L199.4,378.00 M111.3,256.11L199.4,378.00 M111.3,262.75L199.4,378.00 M111.3,264.12L199.4,378.00 M111.3,252.79L199.4,378.00 M111.3,253.73L199.4,378.00 M111.3,254.84L199.4,378.00 M111.3,269.89L199.4,378.00 M111.3,254.57L199.4,378.00 M111.3,257.71L199.4,378.00 M111.3,259.14L199.4,378.00 M111.3,258.03L199.4,378.00 M111.3,255.12L199.4,378.00 M111.3,260.80L199.4,378.00 M111.3,248.74L199.4,378.00 M111.3,261.27L199.4,378.00 M111.3,255.94L199.4,378.00 M111.3,257.26L199.4,378.00 M111.3,272.66L199.4,378.00 M111.3,252.30L199.4,378.00 M111.3,255.57L199.4,378.00 M111.3,259.15L199.4,378.00 M111.3,254.65L199.4,378.00 M111.3,253.38L199.4,378.00 M111.3,251.92L199.4,378.00 M111.3,259.94L199.4,378.00 M111.3,252.99L199.4,378.00 M111.3,262.41L199.4,378.00 M111.3,275.16L199.4,378.00 M111.3,274.24L199.4,378.00 M111.3,259.85L199.4,378.00 M111.3,270.23L199.4,378.00 M111.3,265.87L199.4,378.00 M111.3,258.95L199.4,378.00 M111.3,250.95L199.4,378.00 M111.3,249.38L199.4,378.00 M111.3,249.05L199.4,378.00 M111.3,249.92L199.4,378.00 M111.3,253.68L199.4,378.00 M111.3,258.33L199.4,378.00 M111.3,257.69L199.4,378.00 M111.3,252.22L199.4,378.00 M111.3,252.08L199.4,378.00 M111.3,252.31L199.4,378.00 M111.3,260.40L199.4,378.00 M111.3,258.22L199.4,378.00 M111.3,248.73L199.4,378.00 M111.3,262.69L199.4,378.00 M111.3,256.99L199.4,378.00 M111.3,257.90L199.4,378.00 M111.3,258.74L199.4,378.00 M111.3,248.30L199.4,378.00 M111.3,272.19L199.4,378.00 M111.3,256.24L199.4,378.00 M111.3,264.31L199.4,378.00 M111.3,261.79L199.4,378.00 M111.3,251.47L199.4,378.00 M111.3,256.38L199.4,378.00 M111.3,257.77L199.4,378.00 M111.3,254.62L199.4,378.00 M111.3,250.09L199.4,378.00 M111.3,252.60L199.4,378.00 M111.3,272.58L199.4,378.00 M111.3,236.30L199.4,239.50 M111.3,236.80L199.4,239.80 M111.3,242.67L199.4,240.50 M111.3,244.65L199.4,244.00 M111.3,243.41L199.4,245.50 M111.3,243.90L199.4,246.50 M111.3,242.82L199.4,248.00 M111.3,246.11L199.4,249.50 M111.3,244.65L199.4,251.00 M111.3,244.98L199.4,252.50 M111.3,243.56L199.4,254.00 M111.3,245.71L199.4,256.00 M111.3,242.81L199.4,258.00 M111.3,247.47L199.4,260.86 M111.3,239.73L199.4,261.01 M111.3,240.29L199.4,261.04 M111.3,241.26L199.4,261.08 M111.3,247.71L199.4,263.17 M111.3,244.63L199.4,265.48 M111.3,245.23L199.4,266.25 M111.3,244.58L199.4,267.36 M111.3,248.74L199.4,267.64 M111.3,250.19L199.4,268.25 M111.3,248.01L199.4,268.34 M111.3,248.78L199.4,268.48 M111.3,248.79L199.4,268.48 M111.3,249.60L199.4,269.69 M111.3,239.96L199.4,269.77 M111.3,250.04L199.4,270.45 M111.3,245.77L199.4,272.33 M111.3,243.55L199.4,273.30 M111.3,248.00L199.4,273.64 M111.3,245.04L199.4,273.71 M111.3,251.97L199.4,276.73 M111.3,248.16L199.4,277.93 M111.3,249.40L199.4,279.36 M111.3,242.52L199.4,279.75 M111.3,244.14L199.4,279.76 M111.3,248.14L199.4,279.92 M111.3,252.25L199.4,280.31 M111.3,251.69L199.4,283.34 M111.3,246.33L199.4,284.42 M111.3,244.64L199.4,284.71 M111.3,250.43L199.4,285.90 M111.3,244.46L199.4,286.04 M111.3,252.38L199.4,287.67 M111.3,257.32L199.4,288.87 M111.3,248.20L199.4,289.14 M111.3,248.14L199.4,289.91 M111.3,249.97L199.4,290.15 M111.3,249.88L199.4,290.35 M111.3,253.93L199.4,290.61 M111.3,245.87L199.4,291.43 M111.3,251.87L199.4,291.89 M111.3,255.23L199.4,292.29 M111.3,251.15L199.4,293.67 M111.3,250.90L199.4,294.03 M111.3,248.59L199.4,295.04 M111.3,251.68L199.4,295.57 M111.3,254.67L199.4,295.72 M111.3,247.64L199.4,295.77 M111.3,258.15L199.4,296.60 M111.3,253.47L199.4,296.84 M111.3,251.08L199.4,296.95 M111.3,265.87L199.4,297.52 M111.3,253.87L199.4,297.83 M111.3,250.89L199.4,297.96 M111.3,251.52L199.4,300.60 M111.3,252.77L199.4,301.24 M111.3,244.12L199.4,301.36 M111.3,253.71L199.4,301.36 M111.3,254.40L199.4,301.81 M111.3,252.45L199.4,301.96 M111.3,253.62L199.4,302.53 M111.3,264.55L199.4,302.60 M111.3,262.60L199.4,302.79 M111.3,252.40L199.4,302.93 M111.3,251.69L199.4,303.77 M111.3,253.58L199.4,304.66 M111.3,250.54L199.4,305.01 M111.3,249.75L199.4,305.23 M111.3,251.66L199.4,306.25 M111.3,255.11L199.4,307.24 M111.3,257.09L199.4,307.44 M111.3,260.45L199.4,307.98 M111.3,256.06L199.4,308.08 M111.3,254.84L199.4,309.35 M111.3,259.78L199.4,309.52 M111.3,255.07L199.4,310.05 M111.3,257.08L199.4,310.10 M111.3,256.25L199.4,310.50 M111.3,251.30L199.4,310.69 M111.3,257.52L199.4,311.24 M111.3,257.28L199.4,311.70 M111.3,251.58L199.4,311.84 M111.3,259.91L199.4,312.55 M111.3,253.52L199.4,313.05 M111.3,255.65L199.4,313.21 M111.3,259.59L199.4,313.30 M111.3,258.25L199.4,313.46 M111.3,255.00L199.4,313.97 M111.3,261.15L199.4,314.17 M111.3,254.53L199.4,314.21 M111.3,252.95L199.4,315.02 M111.3,253.72L199.4,315.11 M111.3,256.28L199.4,317.02 M111.3,261.08L199.4,317.25 M111.3,256.44L199.4,319.29 M111.3,260.38L199.4,319.30 M111.3,260.30L199.4,320.05 M111.3,266.19L199.4,321.03 M111.3,264.50L199.4,321.09 M111.3,260.52L199.4,321.23 M111.3,255.95L199.4,321.53 M111.3,267.71L199.4,321.58 M111.3,254.89L199.4,321.76 M111.3,261.77L199.4,322.35 M111.3,254.87L199.4,322.36 M111.3,261.26L199.4,323.73 M111.3,266.45L199.4,324.71 M111.3,262.02L199.4,324.73 M111.3,264.59L199.4,324.88 M111.3,269.47L199.4,325.12 M111.3,261.13L199.4,325.60 M111.3,259.87L199.4,325.99 M111.3,257.57L199.4,326.72 M111.3,269.82L199.4,326.74 M111.3,261.25L199.4,327.01 M111.3,257.94L199.4,329.69 M111.3,270.75L199.4,329.93 M111.3,268.00L199.4,331.32 M111.3,267.91L199.4,331.40 M111.3,267.97L199.4,331.85 M111.3,255.01L199.4,331.86 M111.3,269.27L199.4,331.90 M111.3,265.41L199.4,332.31 M111.3,271.74L199.4,332.32 M111.3,269.80L199.4,332.75 M111.3,264.07L199.4,333.42 M111.3,263.83L199.4,333.98 M111.3,271.30L199.4,334.09 M111.3,266.06L199.4,335.26 M111.3,270.00L199.4,336.00 M111.3,268.00L199.4,333.00 M111.3,272.00L199.4,331.00 M111.3,278.00L199.4,378.00" stroke="#000" stroke-width="1.05" fill="none"/>
<rect x="94.20" y="246.70" width="34.70" height="12.60" fill="none" stroke="#808080" stroke-width="1"/>
<line x1="94.20" y1="251.10" x2="128.90" y2="251.10" stroke="#808080" stroke-width="1"/>
<line x1="94.20" y1="235.60" x2="128.90" y2="235.60" stroke="#808080" stroke-width="1"/>
<line x1="94.20" y1="278.20" x2="128.90" y2="278.20" stroke="#808080" stroke-width="1"/>
<rect x="181.80" y="297.40" width="35.50" height="81.00" fill="none" stroke="#808080" stroke-width="1"/>
<line x1="181.80" y1="327.60" x2="217.30" y2="327.60" stroke="#808080" stroke-width="1"/>
<line x1="181.80" y1="239.50" x2="217.30" y2="239.50" stroke="#808080" stroke-width="1"/>
<line x1="181.80" y1="378.40" x2="217.30" y2="378.40" stroke="#808080" stroke-width="1"/>
<circle cx="111.39999999999999" cy="278.1" r="1.7" fill="#fff" fill-opacity="0.5" stroke="#000" stroke-width="1.1"/>
<rect x="60.4" y="214.6" width="190.2" height="170.20000000000002" fill="none" stroke="#000" stroke-width="1.2"/>
<line x1="57.10" y1="235.30" x2="60.60" y2="235.30" stroke="#000" stroke-width="0.9"/>
<text x="53.80" y="238.00" font-size="8.29" text-anchor="end" fill="#151515" color="#151515" textLength="18.93" lengthAdjust="spacingAndGlyphs">100%</text>
<line x1="57.10" y1="263.88" x2="60.60" y2="263.88" stroke="#000" stroke-width="0.9"/>
<text x="53.80" y="266.58" font-size="8.29" text-anchor="end" fill="#151515" color="#151515" textLength="14.81" lengthAdjust="spacingAndGlyphs">10%</text>
<line x1="57.10" y1="292.46" x2="60.60" y2="292.46" stroke="#000" stroke-width="0.9"/>
<text x="53.80" y="295.16" font-size="8.29" text-anchor="end" fill="#151515" color="#151515" textLength="10.70" lengthAdjust="spacingAndGlyphs">1%</text>
<line x1="57.10" y1="321.04" x2="60.60" y2="321.04" stroke="#000" stroke-width="0.9"/>
<text x="53.80" y="323.74" font-size="8.29" text-anchor="end" fill="#151515" color="#151515" textLength="16.87" lengthAdjust="spacingAndGlyphs">0.1%</text>
<line x1="57.10" y1="349.62" x2="60.60" y2="349.62" stroke="#000" stroke-width="0.9"/>
<text x="53.80" y="352.32" font-size="8.29" text-anchor="end" fill="#151515" color="#151515" textLength="20.98" lengthAdjust="spacingAndGlyphs">0.01%</text>
<line x1="57.10" y1="378.20" x2="60.60" y2="378.20" stroke="#000" stroke-width="0.9"/>
<text x="53.80" y="380.90" font-size="8.29" text-anchor="end" fill="#151515" color="#151515" textLength="10.70" lengthAdjust="spacingAndGlyphs">0%</text>
<line x1="111.10" y1="384.80" x2="111.10" y2="388.10" stroke="#000" stroke-width="0.9"/>
<line x1="199.40" y1="384.80" x2="199.40" y2="388.10" stroke="#000" stroke-width="0.9"/>
<text x="94.80" y="397.80" font-size="8.51" text-anchor="start" fill="#151515" color="#151515" textLength="33.00" lengthAdjust="spacingAndGlyphs">Diagnosis</text>
<text x="185.50" y="397.80" font-size="8.51" text-anchor="start" fill="#151515" color="#151515" textLength="28.40" lengthAdjust="spacingAndGlyphs">Pre-HCT</text>
<text x="89.20" y="224.80" font-size="8.51" text-anchor="start" fill="#151515" color="#151515" textLength="44.00" lengthAdjust="spacingAndGlyphs">Avg = 28.09%</text>
<text x="182.00" y="224.80" font-size="8.51" text-anchor="start" fill="#151515" color="#151515" textLength="39.50" lengthAdjust="spacingAndGlyphs">Avg = 2.61%</text>
<text x="90.50" y="255.30" font-size="8.51" text-anchor="end" fill="#151515" color="#151515" textLength="23.60" lengthAdjust="spacingAndGlyphs">28.16%</text>
<text x="223.80" y="330.30" font-size="8.51" text-anchor="start" fill="#151515" color="#151515" textLength="20.00" lengthAdjust="spacingAndGlyphs">0.06%</text>
<text x="28.30" y="300.00" font-size="9.36" text-anchor="middle" fill="#151515" color="#151515" textLength="111.50" lengthAdjust="spacingAndGlyphs" transform="rotate(-90 28.30 300.00)">Variant allele frequency (%)</text>
<rect x="92.60" y="431.10" width="9.13" height="7.38" fill="rgb(200, 20, 22)" fill-opacity="0.040"/>
<rect x="101.70" y="431.10" width="9.43" height="7.38" fill="rgb(200, 20, 22)" fill-opacity="0.050"/>
<rect x="111.10" y="431.10" width="8.73" height="7.38" fill="rgb(200, 20, 22)" fill-opacity="0.050"/>
<rect x="119.80" y="431.10" width="9.23" height="7.38" fill="rgb(200, 20, 22)" fill-opacity="0.050"/>
<rect x="83.50" y="438.45" width="9.13" height="7.38" fill="rgb(200, 20, 22)" fill-opacity="0.030"/>
<rect x="92.60" y="438.45" width="9.13" height="7.38" fill="rgb(200, 20, 22)" fill-opacity="0.060"/>
<rect x="101.70" y="438.45" width="9.43" height="7.38" fill="rgb(200, 20, 22)" fill-opacity="0.080"/>
<rect x="111.10" y="438.45" width="8.73" height="7.38" fill="rgb(200, 20, 22)" fill-opacity="0.080"/>
<rect x="119.80" y="438.45" width="9.23" height="7.38" fill="rgb(200, 20, 22)" fill-opacity="0.060"/>
<rect x="129.00" y="438.45" width="9.03" height="7.38" fill="rgb(200, 20, 22)" fill-opacity="0.030"/>
<rect x="83.50" y="445.80" width="9.13" height="7.38" fill="rgb(200, 20, 22)" fill-opacity="0.040"/>
<rect x="92.60" y="445.80" width="9.13" height="7.38" fill="rgb(200, 20, 22)" fill-opacity="0.080"/>
<rect x="101.70" y="445.80" width="9.43" height="7.38" fill="rgb(200, 20, 22)" fill-opacity="0.150"/>
<rect x="111.10" y="445.80" width="8.73" height="7.38" fill="rgb(200, 20, 22)" fill-opacity="0.150"/>
<rect x="119.80" y="445.80" width="9.23" height="7.38" fill="rgb(200, 20, 22)" fill-opacity="0.080"/>
<rect x="129.00" y="445.80" width="9.03" height="7.38" fill="rgb(200, 20, 22)" fill-opacity="0.040"/>
<rect x="83.50" y="453.15" width="9.13" height="7.38" fill="rgb(200, 20, 22)" fill-opacity="0.050"/>
<rect x="92.60" y="453.15" width="9.13" height="7.38" fill="rgb(200, 20, 22)" fill-opacity="0.100"/>
<rect x="101.70" y="453.15" width="9.43" height="7.38" fill="rgb(200, 20, 22)" fill-opacity="0.170"/>
<rect x="111.10" y="453.15" width="8.73" height="7.38" fill="rgb(200, 20, 22)" fill-opacity="0.170"/>
<rect x="119.80" y="453.15" width="9.23" height="7.38" fill="rgb(200, 20, 22)" fill-opacity="0.100"/>
<rect x="129.00" y="453.15" width="9.03" height="7.38" fill="rgb(200, 20, 22)" fill-opacity="0.050"/>
<rect x="83.50" y="460.50" width="9.13" height="7.38" fill="rgb(200, 20, 22)" fill-opacity="0.060"/>
<rect x="92.60" y="460.50" width="9.13" height="7.38" fill="rgb(200, 20, 22)" fill-opacity="0.120"/>
<rect x="101.70" y="460.50" width="9.43" height="7.38" fill="rgb(200, 20, 22)" fill-opacity="0.200"/>
<rect x="111.10" y="460.50" width="8.73" height="7.38" fill="rgb(200, 20, 22)" fill-opacity="0.200"/>
<rect x="119.80" y="460.50" width="9.23" height="7.38" fill="rgb(200, 20, 22)" fill-opacity="0.120"/>
<rect x="129.00" y="460.50" width="9.03" height="7.38" fill="rgb(200, 20, 22)" fill-opacity="0.060"/>
<rect x="74.10" y="467.85" width="9.43" height="7.38" fill="rgb(200, 20, 22)" fill-opacity="0.020"/>
<rect x="83.50" y="467.85" width="9.13" height="7.38" fill="rgb(200, 20, 22)" fill-opacity="0.060"/>
<rect x="92.60" y="467.85" width="9.13" height="7.38" fill="rgb(200, 20, 22)" fill-opacity="0.140"/>
<rect x="101.70" y="467.85" width="9.43" height="7.38" fill="rgb(200, 20, 22)" fill-opacity="0.250"/>
<rect x="111.10" y="467.85" width="8.73" height="7.38" fill="rgb(200, 20, 22)" fill-opacity="0.250"/>
<rect x="119.80" y="467.85" width="9.23" height="7.38" fill="rgb(200, 20, 22)" fill-opacity="0.140"/>
<rect x="129.00" y="467.85" width="9.03" height="7.38" fill="rgb(200, 20, 22)" fill-opacity="0.060"/>
<rect x="74.10" y="475.20" width="9.43" height="7.38" fill="rgb(200, 20, 22)" fill-opacity="0.020"/>
<rect x="83.50" y="475.20" width="9.13" height="7.38" fill="rgb(200, 20, 22)" fill-opacity="0.070"/>
<rect x="92.60" y="475.20" width="9.13" height="7.38" fill="rgb(200, 20, 22)" fill-opacity="0.150"/>
<rect x="101.70" y="475.20" width="9.43" height="7.38" fill="rgb(200, 20, 22)" fill-opacity="0.300"/>
<rect x="111.10" y="475.20" width="8.73" height="7.38" fill="rgb(200, 20, 22)" fill-opacity="0.300"/>
<rect x="119.80" y="475.20" width="9.23" height="7.38" fill="rgb(200, 20, 22)" fill-opacity="0.150"/>
<rect x="129.00" y="475.20" width="9.03" height="7.38" fill="rgb(200, 20, 22)" fill-opacity="0.070"/>
<rect x="74.10" y="482.55" width="9.43" height="7.38" fill="rgb(200, 20, 22)" fill-opacity="0.020"/>
<rect x="83.50" y="482.55" width="9.13" height="7.38" fill="rgb(200, 20, 22)" fill-opacity="0.080"/>
<rect x="92.60" y="482.55" width="9.13" height="7.38" fill="rgb(200, 20, 22)" fill-opacity="0.170"/>
<rect x="101.70" y="482.55" width="9.43" height="7.38" fill="rgb(200, 20, 22)" fill-opacity="0.350"/>
<rect x="111.10" y="482.55" width="8.73" height="7.38" fill="rgb(200, 20, 22)" fill-opacity="0.350"/>
<rect x="119.80" y="482.55" width="9.23" height="7.38" fill="rgb(200, 20, 22)" fill-opacity="0.170"/>
<rect x="129.00" y="482.55" width="9.03" height="7.38" fill="rgb(200, 20, 22)" fill-opacity="0.080"/>
<rect x="74.10" y="489.90" width="9.43" height="7.38" fill="rgb(200, 20, 22)" fill-opacity="0.030"/>
<rect x="83.50" y="489.90" width="9.13" height="7.38" fill="rgb(200, 20, 22)" fill-opacity="0.100"/>
<rect x="92.60" y="489.90" width="9.13" height="7.38" fill="rgb(200, 20, 22)" fill-opacity="0.200"/>
<rect x="101.70" y="489.90" width="9.43" height="7.38" fill="rgb(200, 20, 22)" fill-opacity="0.450"/>
<rect x="111.10" y="489.90" width="8.73" height="7.38" fill="rgb(200, 20, 22)" fill-opacity="0.450"/>
<rect x="119.80" y="489.90" width="9.23" height="7.38" fill="rgb(200, 20, 22)" fill-opacity="0.200"/>
<rect x="129.00" y="489.90" width="9.03" height="7.38" fill="rgb(200, 20, 22)" fill-opacity="0.100"/>
<rect x="74.10" y="497.25" width="9.43" height="7.38" fill="rgb(200, 20, 22)" fill-opacity="0.040"/>
<rect x="83.50" y="497.25" width="9.13" height="7.38" fill="rgb(200, 20, 22)" fill-opacity="0.120"/>
<rect x="92.60" y="497.25" width="9.13" height="7.38" fill="rgb(200, 20, 22)" fill-opacity="0.250"/>
<rect x="101.70" y="497.25" width="9.43" height="7.38" fill="rgb(200, 20, 22)" fill-opacity="0.500"/>
<rect x="111.10" y="497.25" width="8.73" height="7.38" fill="rgb(200, 20, 22)" fill-opacity="0.500"/>
<rect x="119.80" y="497.25" width="9.23" height="7.38" fill="rgb(200, 20, 22)" fill-opacity="0.250"/>
<rect x="129.00" y="497.25" width="9.03" height="7.38" fill="rgb(200, 20, 22)" fill-opacity="0.120"/>
<rect x="74.10" y="504.60" width="9.43" height="7.38" fill="rgb(200, 20, 22)" fill-opacity="0.050"/>
<rect x="83.50" y="504.60" width="9.13" height="7.38" fill="rgb(200, 20, 22)" fill-opacity="0.140"/>
<rect x="92.60" y="504.60" width="9.13" height="7.38" fill="rgb(200, 20, 22)" fill-opacity="0.300"/>
<rect x="101.70" y="504.60" width="9.43" height="7.38" fill="rgb(200, 20, 22)" fill-opacity="0.550"/>
<rect x="111.10" y="504.60" width="8.73" height="7.38" fill="rgb(200, 20, 22)" fill-opacity="0.550"/>
<rect x="119.80" y="504.60" width="9.23" height="7.38" fill="rgb(200, 20, 22)" fill-opacity="0.300"/>
<rect x="129.00" y="504.60" width="9.03" height="7.38" fill="rgb(200, 20, 22)" fill-opacity="0.140"/>
<rect x="74.10" y="511.95" width="9.43" height="7.38" fill="rgb(200, 20, 22)" fill-opacity="0.050"/>
<rect x="83.50" y="511.95" width="9.13" height="7.38" fill="rgb(200, 20, 22)" fill-opacity="0.150"/>
<rect x="92.60" y="511.95" width="9.13" height="7.38" fill="rgb(200, 20, 22)" fill-opacity="0.300"/>
<rect x="101.70" y="511.95" width="9.43" height="7.38" fill="rgb(200, 20, 22)" fill-opacity="0.550"/>
<rect x="111.10" y="511.95" width="8.73" height="7.38" fill="rgb(200, 20, 22)" fill-opacity="0.550"/>
<rect x="119.80" y="511.95" width="9.23" height="7.38" fill="rgb(200, 20, 22)" fill-opacity="0.300"/>
<rect x="129.00" y="511.95" width="9.03" height="7.38" fill="rgb(200, 20, 22)" fill-opacity="0.150"/>
<rect x="74.10" y="519.30" width="9.43" height="7.38" fill="rgb(200, 20, 22)" fill-opacity="0.040"/>
<rect x="83.50" y="519.30" width="9.13" height="7.38" fill="rgb(200, 20, 22)" fill-opacity="0.120"/>
<rect x="92.60" y="519.30" width="9.13" height="7.38" fill="rgb(200, 20, 22)" fill-opacity="0.250"/>
<rect x="101.70" y="519.30" width="9.43" height="7.38" fill="rgb(200, 20, 22)" fill-opacity="0.450"/>
<rect x="111.10" y="519.30" width="8.73" height="7.38" fill="rgb(200, 20, 22)" fill-opacity="0.450"/>
<rect x="119.80" y="519.30" width="9.23" height="7.38" fill="rgb(200, 20, 22)" fill-opacity="0.250"/>
<rect x="129.00" y="519.30" width="9.03" height="7.38" fill="rgb(200, 20, 22)" fill-opacity="0.120"/>
<rect x="74.10" y="526.65" width="9.43" height="7.38" fill="rgb(200, 20, 22)" fill-opacity="0.030"/>
<rect x="83.50" y="526.65" width="9.13" height="7.38" fill="rgb(200, 20, 22)" fill-opacity="0.100"/>
<rect x="92.60" y="526.65" width="9.13" height="7.38" fill="rgb(200, 20, 22)" fill-opacity="0.200"/>
<rect x="101.70" y="526.65" width="9.43" height="7.38" fill="rgb(200, 20, 22)" fill-opacity="0.350"/>
<rect x="111.10" y="526.65" width="8.73" height="7.38" fill="rgb(200, 20, 22)" fill-opacity="0.350"/>
<rect x="119.80" y="526.65" width="9.23" height="7.38" fill="rgb(200, 20, 22)" fill-opacity="0.200"/>
<rect x="129.00" y="526.65" width="9.03" height="7.38" fill="rgb(200, 20, 22)" fill-opacity="0.100"/>
<rect x="83.50" y="534.00" width="9.13" height="7.38" fill="rgb(200, 20, 22)" fill-opacity="0.050"/>
<rect x="92.60" y="534.00" width="9.13" height="7.38" fill="rgb(200, 20, 22)" fill-opacity="0.150"/>
<rect x="101.70" y="534.00" width="9.43" height="7.38" fill="rgb(200, 20, 22)" fill-opacity="0.250"/>
<rect x="111.10" y="534.00" width="8.73" height="7.38" fill="rgb(200, 20, 22)" fill-opacity="0.200"/>
<rect x="119.80" y="534.00" width="9.23" height="7.38" fill="rgb(200, 20, 22)" fill-opacity="0.100"/>
<rect x="129.00" y="534.00" width="9.03" height="7.38" fill="rgb(200, 20, 22)" fill-opacity="0.050"/>
<rect x="83.50" y="541.35" width="9.13" height="7.38" fill="rgb(200, 20, 22)" fill-opacity="0.030"/>
<rect x="92.60" y="541.35" width="9.13" height="7.38" fill="rgb(200, 20, 22)" fill-opacity="0.100"/>
<rect x="101.70" y="541.35" width="9.43" height="7.38" fill="rgb(200, 20, 22)" fill-opacity="0.200"/>
<rect x="111.10" y="541.35" width="8.73" height="7.38" fill="rgb(200, 20, 22)" fill-opacity="0.150"/>
<rect x="119.80" y="541.35" width="9.23" height="7.38" fill="rgb(200, 20, 22)" fill-opacity="0.050"/>
<rect x="129.00" y="541.35" width="9.03" height="7.38" fill="rgb(200, 20, 22)" fill-opacity="0.020"/>
<rect x="92.60" y="548.70" width="9.13" height="7.38" fill="rgb(200, 20, 22)" fill-opacity="0.050"/>
<rect x="101.70" y="548.70" width="9.43" height="7.38" fill="rgb(200, 20, 22)" fill-opacity="0.100"/>
<rect x="111.10" y="548.70" width="8.73" height="7.38" fill="rgb(200, 20, 22)" fill-opacity="0.100"/>
<rect x="119.80" y="548.70" width="9.23" height="7.38" fill="rgb(200, 20, 22)" fill-opacity="0.050"/>
<rect x="101.70" y="556.05" width="9.43" height="7.38" fill="rgb(200, 20, 22)" fill-opacity="0.050"/>
<rect x="111.10" y="556.05" width="8.73" height="7.38" fill="rgb(200, 20, 22)" fill-opacity="0.050"/>
<rect x="193.20" y="481.60" width="9.33" height="7.33" fill="rgb(200, 20, 22)" fill-opacity="0.020"/>
<rect x="202.50" y="481.60" width="9.53" height="7.33" fill="rgb(200, 20, 22)" fill-opacity="0.030"/>
<rect x="193.20" y="488.90" width="9.33" height="7.33" fill="rgb(200, 20, 22)" fill-opacity="0.030"/>
<rect x="202.50" y="488.90" width="9.53" height="7.33" fill="rgb(200, 20, 22)" fill-opacity="0.050"/>
<rect x="212.00" y="488.90" width="9.03" height="7.33" fill="rgb(200, 20, 22)" fill-opacity="0.020"/>
<rect x="193.20" y="496.20" width="9.33" height="7.33" fill="rgb(200, 20, 22)" fill-opacity="0.050"/>
<rect x="202.50" y="496.20" width="9.53" height="7.33" fill="rgb(200, 20, 22)" fill-opacity="0.080"/>
<rect x="212.00" y="496.20" width="9.03" height="7.33" fill="rgb(200, 20, 22)" fill-opacity="0.040"/>
<rect x="184.20" y="503.50" width="9.03" height="7.33" fill="rgb(200, 20, 22)" fill-opacity="0.020"/>
<rect x="193.20" y="503.50" width="9.33" height="7.33" fill="rgb(200, 20, 22)" fill-opacity="0.060"/>
<rect x="202.50" y="503.50" width="9.53" height="7.33" fill="rgb(200, 20, 22)" fill-opacity="0.080"/>
<rect x="212.00" y="503.50" width="9.03" height="7.33" fill="rgb(200, 20, 22)" fill-opacity="0.040"/>
<rect x="184.20" y="510.80" width="9.03" height="7.33" fill="rgb(200, 20, 22)" fill-opacity="0.020"/>
<rect x="193.20" y="510.80" width="9.33" height="7.33" fill="rgb(200, 20, 22)" fill-opacity="0.070"/>
<rect x="202.50" y="510.80" width="9.53" height="7.33" fill="rgb(200, 20, 22)" fill-opacity="0.100"/>
<rect x="212.00" y="510.80" width="9.03" height="7.33" fill="rgb(200, 20, 22)" fill-opacity="0.050"/>
<rect x="221.00" y="510.80" width="9.33" height="7.33" fill="rgb(200, 20, 22)" fill-opacity="0.020"/>
<rect x="184.20" y="518.10" width="9.03" height="7.33" fill="rgb(200, 20, 22)" fill-opacity="0.030"/>
<rect x="193.20" y="518.10" width="9.33" height="7.33" fill="rgb(200, 20, 22)" fill-opacity="0.080"/>
<rect x="202.50" y="518.10" width="9.53" height="7.33" fill="rgb(200, 20, 22)" fill-opacity="0.100"/>
<rect x="212.00" y="518.10" width="9.03" height="7.33" fill="rgb(200, 20, 22)" fill-opacity="0.050"/>
<rect x="221.00" y="518.10" width="9.33" height="7.33" fill="rgb(200, 20, 22)" fill-opacity="0.030"/>
<rect x="184.20" y="525.40" width="9.03" height="7.33" fill="rgb(200, 20, 22)" fill-opacity="0.030"/>
<rect x="193.20" y="525.40" width="9.33" height="7.33" fill="rgb(200, 20, 22)" fill-opacity="0.080"/>
<rect x="202.50" y="525.40" width="9.53" height="7.33" fill="rgb(200, 20, 22)" fill-opacity="0.100"/>
<rect x="212.00" y="525.40" width="9.03" height="7.33" fill="rgb(200, 20, 22)" fill-opacity="0.050"/>
<rect x="221.00" y="525.40" width="9.33" height="7.33" fill="rgb(200, 20, 22)" fill-opacity="0.030"/>
<rect x="184.20" y="532.70" width="9.03" height="7.33" fill="rgb(200, 20, 22)" fill-opacity="0.030"/>
<rect x="193.20" y="532.70" width="9.33" height="7.33" fill="rgb(200, 20, 22)" fill-opacity="0.080"/>
<rect x="202.50" y="532.70" width="9.53" height="7.33" fill="rgb(200, 20, 22)" fill-opacity="0.090"/>
<rect x="212.00" y="532.70" width="9.03" height="7.33" fill="rgb(200, 20, 22)" fill-opacity="0.050"/>
<rect x="221.00" y="532.70" width="9.33" height="7.33" fill="rgb(200, 20, 22)" fill-opacity="0.020"/>
<rect x="184.20" y="540.00" width="9.03" height="7.33" fill="rgb(200, 20, 22)" fill-opacity="0.050"/>
<rect x="193.20" y="540.00" width="9.33" height="7.33" fill="rgb(200, 20, 22)" fill-opacity="0.080"/>
<rect x="202.50" y="540.00" width="9.53" height="7.33" fill="rgb(200, 20, 22)" fill-opacity="0.080"/>
<rect x="212.00" y="540.00" width="9.03" height="7.33" fill="rgb(200, 20, 22)" fill-opacity="0.050"/>
<rect x="221.00" y="540.00" width="9.33" height="7.33" fill="rgb(200, 20, 22)" fill-opacity="0.030"/>
<rect x="175.20" y="547.30" width="9.03" height="7.33" fill="rgb(200, 20, 22)" fill-opacity="0.030"/>
<rect x="184.20" y="547.30" width="9.03" height="7.33" fill="rgb(200, 20, 22)" fill-opacity="0.100"/>
<rect x="193.20" y="547.30" width="9.33" height="7.33" fill="rgb(200, 20, 22)" fill-opacity="0.150"/>
<rect x="202.50" y="547.30" width="9.53" height="7.33" fill="rgb(200, 20, 22)" fill-opacity="0.150"/>
<rect x="212.00" y="547.30" width="9.03" height="7.33" fill="rgb(200, 20, 22)" fill-opacity="0.100"/>
<rect x="221.00" y="547.30" width="9.33" height="7.33" fill="rgb(200, 20, 22)" fill-opacity="0.050"/>
<rect x="175.20" y="554.60" width="9.03" height="7.33" fill="rgb(200, 20, 22)" fill-opacity="0.050"/>
<rect x="184.20" y="554.60" width="9.03" height="7.33" fill="rgb(200, 20, 22)" fill-opacity="0.200"/>
<rect x="193.20" y="554.60" width="9.33" height="7.33" fill="rgb(200, 20, 22)" fill-opacity="0.350"/>
<rect x="202.50" y="554.60" width="9.53" height="7.33" fill="rgb(200, 20, 22)" fill-opacity="0.350"/>
<rect x="212.00" y="554.60" width="9.03" height="7.33" fill="rgb(200, 20, 22)" fill-opacity="0.200"/>
<rect x="221.00" y="554.60" width="9.33" height="7.33" fill="rgb(200, 20, 22)" fill-opacity="0.080"/>
<rect x="230.30" y="554.60" width="8.93" height="7.33" fill="rgb(200, 20, 22)" fill-opacity="0.030"/>
<rect x="165.70" y="561.90" width="9.53" height="7.33" fill="rgb(200, 20, 22)" fill-opacity="0.030"/>
<rect x="175.20" y="561.90" width="9.03" height="7.33" fill="rgb(200, 20, 22)" fill-opacity="0.120"/>
<rect x="184.20" y="561.90" width="9.03" height="7.33" fill="rgb(200, 20, 22)" fill-opacity="0.400"/>
<rect x="193.20" y="561.90" width="9.33" height="7.33" fill="rgb(200, 20, 22)" fill-opacity="0.650"/>
<rect x="202.50" y="561.90" width="9.53" height="7.33" fill="rgb(200, 20, 22)" fill-opacity="0.600"/>
<rect x="212.00" y="561.90" width="9.03" height="7.33" fill="rgb(200, 20, 22)" fill-opacity="0.350"/>
<rect x="221.00" y="561.90" width="9.33" height="7.33" fill="rgb(200, 20, 22)" fill-opacity="0.120"/>
<rect x="230.30" y="561.90" width="8.93" height="7.33" fill="rgb(200, 20, 22)" fill-opacity="0.040"/>
<rect x="165.70" y="569.20" width="9.53" height="7.33" fill="rgb(200, 20, 22)" fill-opacity="0.120"/>
<rect x="175.20" y="569.20" width="9.03" height="7.33" fill="rgb(200, 20, 22)" fill-opacity="0.300"/>
<rect x="184.20" y="569.20" width="9.03" height="7.33" fill="rgb(200, 20, 22)" fill-opacity="0.700"/>
<rect x="193.20" y="569.20" width="9.33" height="7.33" fill="rgb(200, 20, 22)" fill-opacity="0.850"/>
<rect x="202.50" y="569.20" width="9.53" height="7.33" fill="rgb(200, 20, 22)" fill-opacity="0.750"/>
<rect x="212.00" y="569.20" width="9.03" height="7.33" fill="rgb(200, 20, 22)" fill-opacity="0.400"/>
<rect x="221.00" y="569.20" width="9.33" height="7.33" fill="rgb(200, 20, 22)" fill-opacity="0.150"/>
<rect x="230.30" y="569.20" width="8.93" height="7.33" fill="rgb(200, 20, 22)" fill-opacity="0.050"/>
<rect x="165.70" y="576.50" width="9.53" height="9.73" fill="rgb(200, 20, 22)" fill-opacity="0.150"/>
<rect x="175.20" y="576.50" width="9.03" height="9.73" fill="rgb(200, 20, 22)" fill-opacity="0.350"/>
<rect x="184.20" y="576.50" width="9.03" height="9.73" fill="rgb(200, 20, 22)" fill-opacity="0.850"/>
<rect x="193.20" y="576.50" width="9.33" height="9.73" fill="rgb(200, 20, 22)" fill-opacity="0.950"/>
<rect x="202.50" y="576.50" width="9.53" height="9.73" fill="rgb(200, 20, 22)" fill-opacity="0.800"/>
<rect x="212.00" y="576.50" width="9.03" height="9.73" fill="rgb(200, 20, 22)" fill-opacity="0.450"/>
<rect x="221.00" y="576.50" width="9.33" height="9.73" fill="rgb(200, 20, 22)" fill-opacity="0.180"/>
<rect x="230.30" y="576.50" width="8.93" height="9.73" fill="rgb(200, 20, 22)" fill-opacity="0.080"/>
<path d="M111.7,526.36L199.7,580.50 M111.7,488.32L199.7,580.50 M111.7,516.93L199.7,580.50 M111.7,469.04L199.7,580.50 M111.7,471.01L199.7,580.50 M111.7,463.51L199.7,580.50 M111.7,490.38L199.7,580.50 M111.7,515.91L199.7,580.50 M111.7,516.21L199.7,580.50 M111.7,489.86L199.7,580.50 M111.7,486.17L199.7,580.50 M111.7,521.01L199.7,580.50 M111.7,523.48L199.7,580.50 M111.7,524.08L199.7,580.50 M111.7,490.86L199.7,580.50 M111.7,521.18L199.7,580.50 M111.7,498.10L199.7,580.50 M111.7,500.57L199.7,580.50 M111.7,492.58L199.7,580.50 M111.7,534.51L199.7,580.50 M111.7,490.61L199.7,580.50 M111.7,512.69L199.7,580.50 M111.7,512.35L199.7,580.50 M111.7,518.08L199.7,580.50 M111.7,528.32L199.7,580.50 M111.7,486.02L199.7,580.50 M111.7,513.59L199.7,580.50 M111.7,531.42L199.7,580.50 M111.7,502.37L199.7,580.50 M111.7,513.87L199.7,580.50 M111.7,516.07L199.7,580.50 M111.7,523.03L199.7,580.50 M111.7,515.84L199.7,580.50 M111.7,519.16L199.7,580.50 M111.7,513.41L199.7,580.50 M111.7,501.23L199.7,580.50 M111.7,536.72L199.7,580.50 M111.7,535.86L199.7,580.50 M111.7,474.85L199.7,580.50 M111.7,480.06L199.7,580.50 M111.7,517.00L199.7,580.50 M111.7,478.00L199.7,580.50 M111.7,499.17L199.7,580.50 M111.7,498.10L199.7,580.50 M111.7,510.91L199.7,580.50 M111.7,491.28L199.7,580.50 M111.7,524.63L199.7,580.50 M111.7,524.87L199.7,580.50 M111.7,467.43L199.7,580.50 M111.7,465.30L199.7,580.50 M111.7,507.39L199.7,580.50 M111.7,523.20L199.7,580.50 M111.7,503.26L199.7,580.50 M111.7,529.27L199.7,580.50 M111.7,524.52L199.7,580.50 M111.7,533.69L199.7,580.50 M111.7,509.59L199.7,580.50 M111.7,503.91L199.7,580.50 M111.7,489.09L199.7,580.50 M111.7,468.90L199.7,580.50 M111.7,508.78L199.7,580.50 M111.7,528.92L199.7,580.50 M111.7,503.03L199.7,580.50 M111.7,481.44L199.7,580.50 M111.7,503.12L199.7,580.50 M111.7,515.49L199.7,580.50 M111.7,520.87L199.7,580.50 M111.7,529.07L199.7,580.50 M111.7,477.36L199.7,580.50 M111.7,496.37L199.7,580.50 M111.7,466.05L199.7,580.50 M111.7,505.67L199.7,580.50 M111.7,474.38L199.7,580.50 M111.7,496.00L199.7,580.50 M111.7,500.65L199.7,580.50 M111.7,506.81L199.7,580.50 M111.7,484.47L199.7,580.50 M111.7,535.80L199.7,580.50 M111.7,484.94L199.7,580.50 M111.7,498.49L199.7,580.50 M111.7,450.50L199.7,580.50 M111.7,454.00L199.7,580.50 M111.7,441.90L199.7,580.50 M111.7,444.50L199.7,580.50 M111.7,448.00L199.7,580.50 M111.7,441.90L199.7,495.70 M111.7,442.60L199.7,500.01 M111.7,492.79L199.7,501.22 M111.7,458.00L199.7,502.07 M111.7,455.00L199.7,504.32 M111.7,482.95L199.7,504.89 M111.7,447.00L199.7,505.89 M111.7,449.50L199.7,507.64 M111.7,487.81L199.7,509.11 M111.7,476.07L199.7,510.39 M111.7,519.16L199.7,511.57 M111.7,503.27L199.7,511.94 M111.7,461.00L199.7,512.65 M111.7,476.38L199.7,512.82 M111.7,474.69L199.7,513.91 M111.7,517.58L199.7,517.65 M111.7,520.22L199.7,519.17 M111.7,452.00L199.7,523.86 M111.7,465.01L199.7,526.39 M111.7,480.40L199.7,526.54 M111.7,511.38L199.7,526.66 M111.7,510.03L199.7,527.26 M111.7,476.62L199.7,528.60 M111.7,502.37L199.7,529.26 M111.7,506.61L199.7,529.53 M111.7,481.39L199.7,531.63 M111.7,475.11L199.7,531.99 M111.7,507.87L199.7,535.03 M111.7,480.00L199.7,446.30 M111.7,487.00L199.7,450.80 M111.7,498.00L199.7,457.30 M111.7,507.00L199.7,466.50" stroke="#000" stroke-width="1.05" fill="none"/>
<path d="M111.7,505.00L199.7,580.50 M111.7,506.15L199.7,580.50 M111.7,507.30L199.7,580.50 M111.7,508.44L199.7,580.50 M111.7,509.59L199.7,580.50 M111.7,510.74L199.7,580.50 M111.7,511.89L199.7,580.50 M111.7,513.04L199.7,580.50 M111.7,514.19L199.7,580.50 M111.7,515.33L199.7,580.50 M111.7,516.48L199.7,580.50 M111.7,517.63L199.7,580.50 M111.7,518.78L199.7,580.50 M111.7,519.93L199.7,580.50 M111.7,521.08L199.7,580.50 M111.7,522.22L199.7,580.50 M111.7,523.37L199.7,580.50 M111.7,524.52L199.7,580.50 M111.7,525.67L199.7,580.50 M111.7,526.82L199.7,580.50 M111.7,527.97L199.7,580.50 M111.7,529.11L199.7,580.50 M111.7,530.26L199.7,580.50 M111.7,531.41L199.7,580.50 M111.7,532.56L199.7,580.50 M111.7,533.71L199.7,580.50 M111.7,534.86L199.7,580.50 M111.7,536.00L199.7,580.50 M111.7,537.15L199.7,580.50 M111.7,538.30L199.7,580.50" stroke="#000" stroke-width="0.8" fill="none"/>
<circle cx="199.7" cy="495.70" r="1.5" fill="#fff" fill-opacity="0.85" stroke="#000" stroke-width="0.8"/>
<circle cx="199.7" cy="500.01" r="1.5" fill="#fff" fill-opacity="0.85" stroke="#000" stroke-width="0.8"/>
<circle cx="199.7" cy="501.22" r="1.5" fill="#fff" fill-opacity="0.85" stroke="#000" stroke-width="0.8"/>
<circle cx="199.7" cy="502.07" r="1.5" fill="#fff" fill-opacity="0.85" stroke="#000" stroke-width="0.8"/>
<circle cx="199.7" cy="504.32" r="1.5" fill="#fff" fill-opacity="0.85" stroke="#000" stroke-width="0.8"/>
<circle cx="199.7" cy="504.89" r="1.5" fill="#fff" fill-opacity="0.85" stroke="#000" stroke-width="0.8"/>
<circle cx="199.7" cy="505.89" r="1.5" fill="#fff" fill-opacity="0.85" stroke="#000" stroke-width="0.8"/>
<circle cx="199.7" cy="507.64" r="1.5" fill="#fff" fill-opacity="0.85" stroke="#000" stroke-width="0.8"/>
<circle cx="199.7" cy="509.11" r="1.5" fill="#fff" fill-opacity="0.85" stroke="#000" stroke-width="0.8"/>
<circle cx="199.7" cy="510.39" r="1.5" fill="#fff" fill-opacity="0.85" stroke="#000" stroke-width="0.8"/>
<circle cx="199.7" cy="511.57" r="1.5" fill="#fff" fill-opacity="0.85" stroke="#000" stroke-width="0.8"/>
<circle cx="199.7" cy="511.94" r="1.5" fill="#fff" fill-opacity="0.85" stroke="#000" stroke-width="0.8"/>
<circle cx="199.7" cy="512.65" r="1.5" fill="#fff" fill-opacity="0.85" stroke="#000" stroke-width="0.8"/>
<circle cx="199.7" cy="512.82" r="1.5" fill="#fff" fill-opacity="0.85" stroke="#000" stroke-width="0.8"/>
<circle cx="199.7" cy="513.91" r="1.5" fill="#fff" fill-opacity="0.85" stroke="#000" stroke-width="0.8"/>
<circle cx="199.7" cy="517.65" r="1.5" fill="#fff" fill-opacity="0.85" stroke="#000" stroke-width="0.8"/>
<circle cx="199.7" cy="519.17" r="1.5" fill="#fff" fill-opacity="0.85" stroke="#000" stroke-width="0.8"/>
<circle cx="199.7" cy="523.86" r="1.5" fill="#fff" fill-opacity="0.85" stroke="#000" stroke-width="0.8"/>
<circle cx="199.7" cy="526.39" r="1.5" fill="#fff" fill-opacity="0.85" stroke="#000" stroke-width="0.8"/>
<circle cx="199.7" cy="526.54" r="1.5" fill="#fff" fill-opacity="0.85" stroke="#000" stroke-width="0.8"/>
<circle cx="199.7" cy="526.66" r="1.5" fill="#fff" fill-opacity="0.85" stroke="#000" stroke-width="0.8"/>
<circle cx="199.7" cy="527.26" r="1.5" fill="#fff" fill-opacity="0.85" stroke="#000" stroke-width="0.8"/>
<circle cx="199.7" cy="528.60" r="1.5" fill="#fff" fill-opacity="0.85" stroke="#000" stroke-width="0.8"/>
<circle cx="199.7" cy="529.26" r="1.5" fill="#fff" fill-opacity="0.85" stroke="#000" stroke-width="0.8"/>
<circle cx="199.7" cy="529.53" r="1.5" fill="#fff" fill-opacity="0.85" stroke="#000" stroke-width="0.8"/>
<circle cx="199.7" cy="531.63" r="1.5" fill="#fff" fill-opacity="0.85" stroke="#000" stroke-width="0.8"/>
<circle cx="199.7" cy="531.99" r="1.5" fill="#fff" fill-opacity="0.85" stroke="#000" stroke-width="0.8"/>
<circle cx="199.7" cy="535.03" r="1.5" fill="#fff" fill-opacity="0.85" stroke="#000" stroke-width="0.8"/>
<circle cx="199.7" cy="446.30" r="1.5" fill="#fff" fill-opacity="0.85" stroke="#000" stroke-width="0.8"/>
<circle cx="199.7" cy="450.80" r="1.5" fill="#fff" fill-opacity="0.85" stroke="#000" stroke-width="0.8"/>
<circle cx="199.7" cy="457.30" r="1.5" fill="#fff" fill-opacity="0.85" stroke="#000" stroke-width="0.8"/>
<circle cx="199.7" cy="466.50" r="1.5" fill="#fff" fill-opacity="0.85" stroke="#000" stroke-width="0.8"/>
<rect x="93.80" y="481.50" width="35.90" height="40.70" fill="none" stroke="#808080" stroke-width="1"/>
<line x1="93.80" y1="503.00" x2="129.70" y2="503.00" stroke="#808080" stroke-width="1"/>
<line x1="93.80" y1="441.70" x2="129.70" y2="441.70" stroke="#808080" stroke-width="1"/>
<line x1="93.80" y1="538.30" x2="129.70" y2="538.30" stroke="#808080" stroke-width="1"/>
<line x1="181.70" y1="580.80" x2="217.30" y2="580.80" stroke="#808080" stroke-width="1"/>
<rect x="60.4" y="416.8" width="190.2" height="169.99999999999994" fill="none" stroke="#000" stroke-width="1.2"/>
<line x1="57.10" y1="437.50" x2="60.60" y2="437.50" stroke="#000" stroke-width="0.9"/>
<text x="53.80" y="440.20" font-size="8.29" text-anchor="end" fill="#151515" color="#151515" textLength="18.93" lengthAdjust="spacingAndGlyphs">100%</text>
<line x1="57.10" y1="466.10" x2="60.60" y2="466.10" stroke="#000" stroke-width="0.9"/>
<text x="53.80" y="468.80" font-size="8.29" text-anchor="end" fill="#151515" color="#151515" textLength="14.81" lengthAdjust="spacingAndGlyphs">10%</text>
<line x1="57.10" y1="494.70" x2="60.60" y2="494.70" stroke="#000" stroke-width="0.9"/>
<text x="53.80" y="497.40" font-size="8.29" text-anchor="end" fill="#151515" color="#151515" textLength="10.70" lengthAdjust="spacingAndGlyphs">1%</text>
<line x1="57.10" y1="523.30" x2="60.60" y2="523.30" stroke="#000" stroke-width="0.9"/>
<text x="53.80" y="526.00" font-size="8.29" text-anchor="end" fill="#151515" color="#151515" textLength="16.87" lengthAdjust="spacingAndGlyphs">0.1%</text>
<line x1="57.10" y1="551.90" x2="60.60" y2="551.90" stroke="#000" stroke-width="0.9"/>
<text x="53.80" y="554.60" font-size="8.29" text-anchor="end" fill="#151515" color="#151515" textLength="20.98" lengthAdjust="spacingAndGlyphs">0.01%</text>
<line x1="57.10" y1="580.50" x2="60.60" y2="580.50" stroke="#000" stroke-width="0.9"/>
<text x="53.80" y="583.20" font-size="8.29" text-anchor="end" fill="#151515" color="#151515" textLength="10.70" lengthAdjust="spacingAndGlyphs">0%</text>
<line x1="111.40" y1="586.80" x2="111.40" y2="590.10" stroke="#000" stroke-width="0.9"/>
<line x1="199.70" y1="586.80" x2="199.70" y2="590.10" stroke="#000" stroke-width="0.9"/>
<text x="97.60" y="601.70" font-size="8.51" text-anchor="start" fill="#151515" color="#151515" textLength="28.00" lengthAdjust="spacingAndGlyphs">Pre-HCT</text>
<text x="169.60" y="601.70" font-size="8.51" text-anchor="start" fill="#151515" color="#151515" textLength="60.40" lengthAdjust="spacingAndGlyphs">Post-HCT (day 21)</text>
<text x="92.00" y="427.00" font-size="8.51" text-anchor="start" fill="#151515" color="#151515" textLength="39.50" lengthAdjust="spacingAndGlyphs">Avg = 4.71%</text>
<text x="181.70" y="427.00" font-size="8.51" text-anchor="start" fill="#151515" color="#151515" textLength="40.00" lengthAdjust="spacingAndGlyphs">Avg = 0.83%</text>
<text x="85.80" y="506.20" font-size="8.51" text-anchor="end" fill="#151515" color="#151515" textLength="19.80" lengthAdjust="spacingAndGlyphs">0.52%</text>
<text x="219.80" y="583.50" font-size="8.51" text-anchor="start" fill="#151515" color="#151515" textLength="10.20" lengthAdjust="spacingAndGlyphs">0%</text>
<text x="202.00" y="447.70" font-size="9.3" text-anchor="start" fill="#151515" color="#151515" textLength="28.60" lengthAdjust="spacingAndGlyphs">DNMT3A</text>
<text x="202.00" y="454.60" font-size="9.3" text-anchor="start" fill="#151515" color="#151515" textLength="18.00" lengthAdjust="spacingAndGlyphs">NPM1</text>
<text x="202.00" y="461.50" font-size="9.3" text-anchor="start" fill="#151515" color="#151515" textLength="28.60" lengthAdjust="spacingAndGlyphs">DNMT3A</text>
<text x="202.00" y="469.20" font-size="9.3" text-anchor="start" fill="#151515" color="#151515" textLength="18.00" lengthAdjust="spacingAndGlyphs">NPM1</text>
<text x="28.30" y="502.50" font-size="9.36" text-anchor="middle" fill="#151515" color="#151515" textLength="111.50" lengthAdjust="spacingAndGlyphs" transform="rotate(-90 28.30 502.50)">Variant allele frequency (%)</text>
<g shape-rendering="crispEdges">
<rect x="0" y="1" width="2" height="610" fill="rgb(110,110,110)"/>
<rect x="518" y="0" width="2" height="611" fill="rgb(120,120,120)"/>
<rect x="0" y="0" width="520" height="2" fill="rgb(140,140,140)"/>
<rect x="0" y="609" width="520" height="2" fill="rgb(120,120,120)"/>
<rect x="0" y="0" width="520" height="1" fill="rgb(30,30,30)"/>
<rect x="0" y="0" width="1" height="611" fill="#000"/>
<rect x="519" y="0" width="1" height="611" fill="rgb(15,15,15)"/>
<rect x="0" y="610" width="520" height="1" fill="rgb(15,15,15)"/>
</g>
</svg></body></html>
